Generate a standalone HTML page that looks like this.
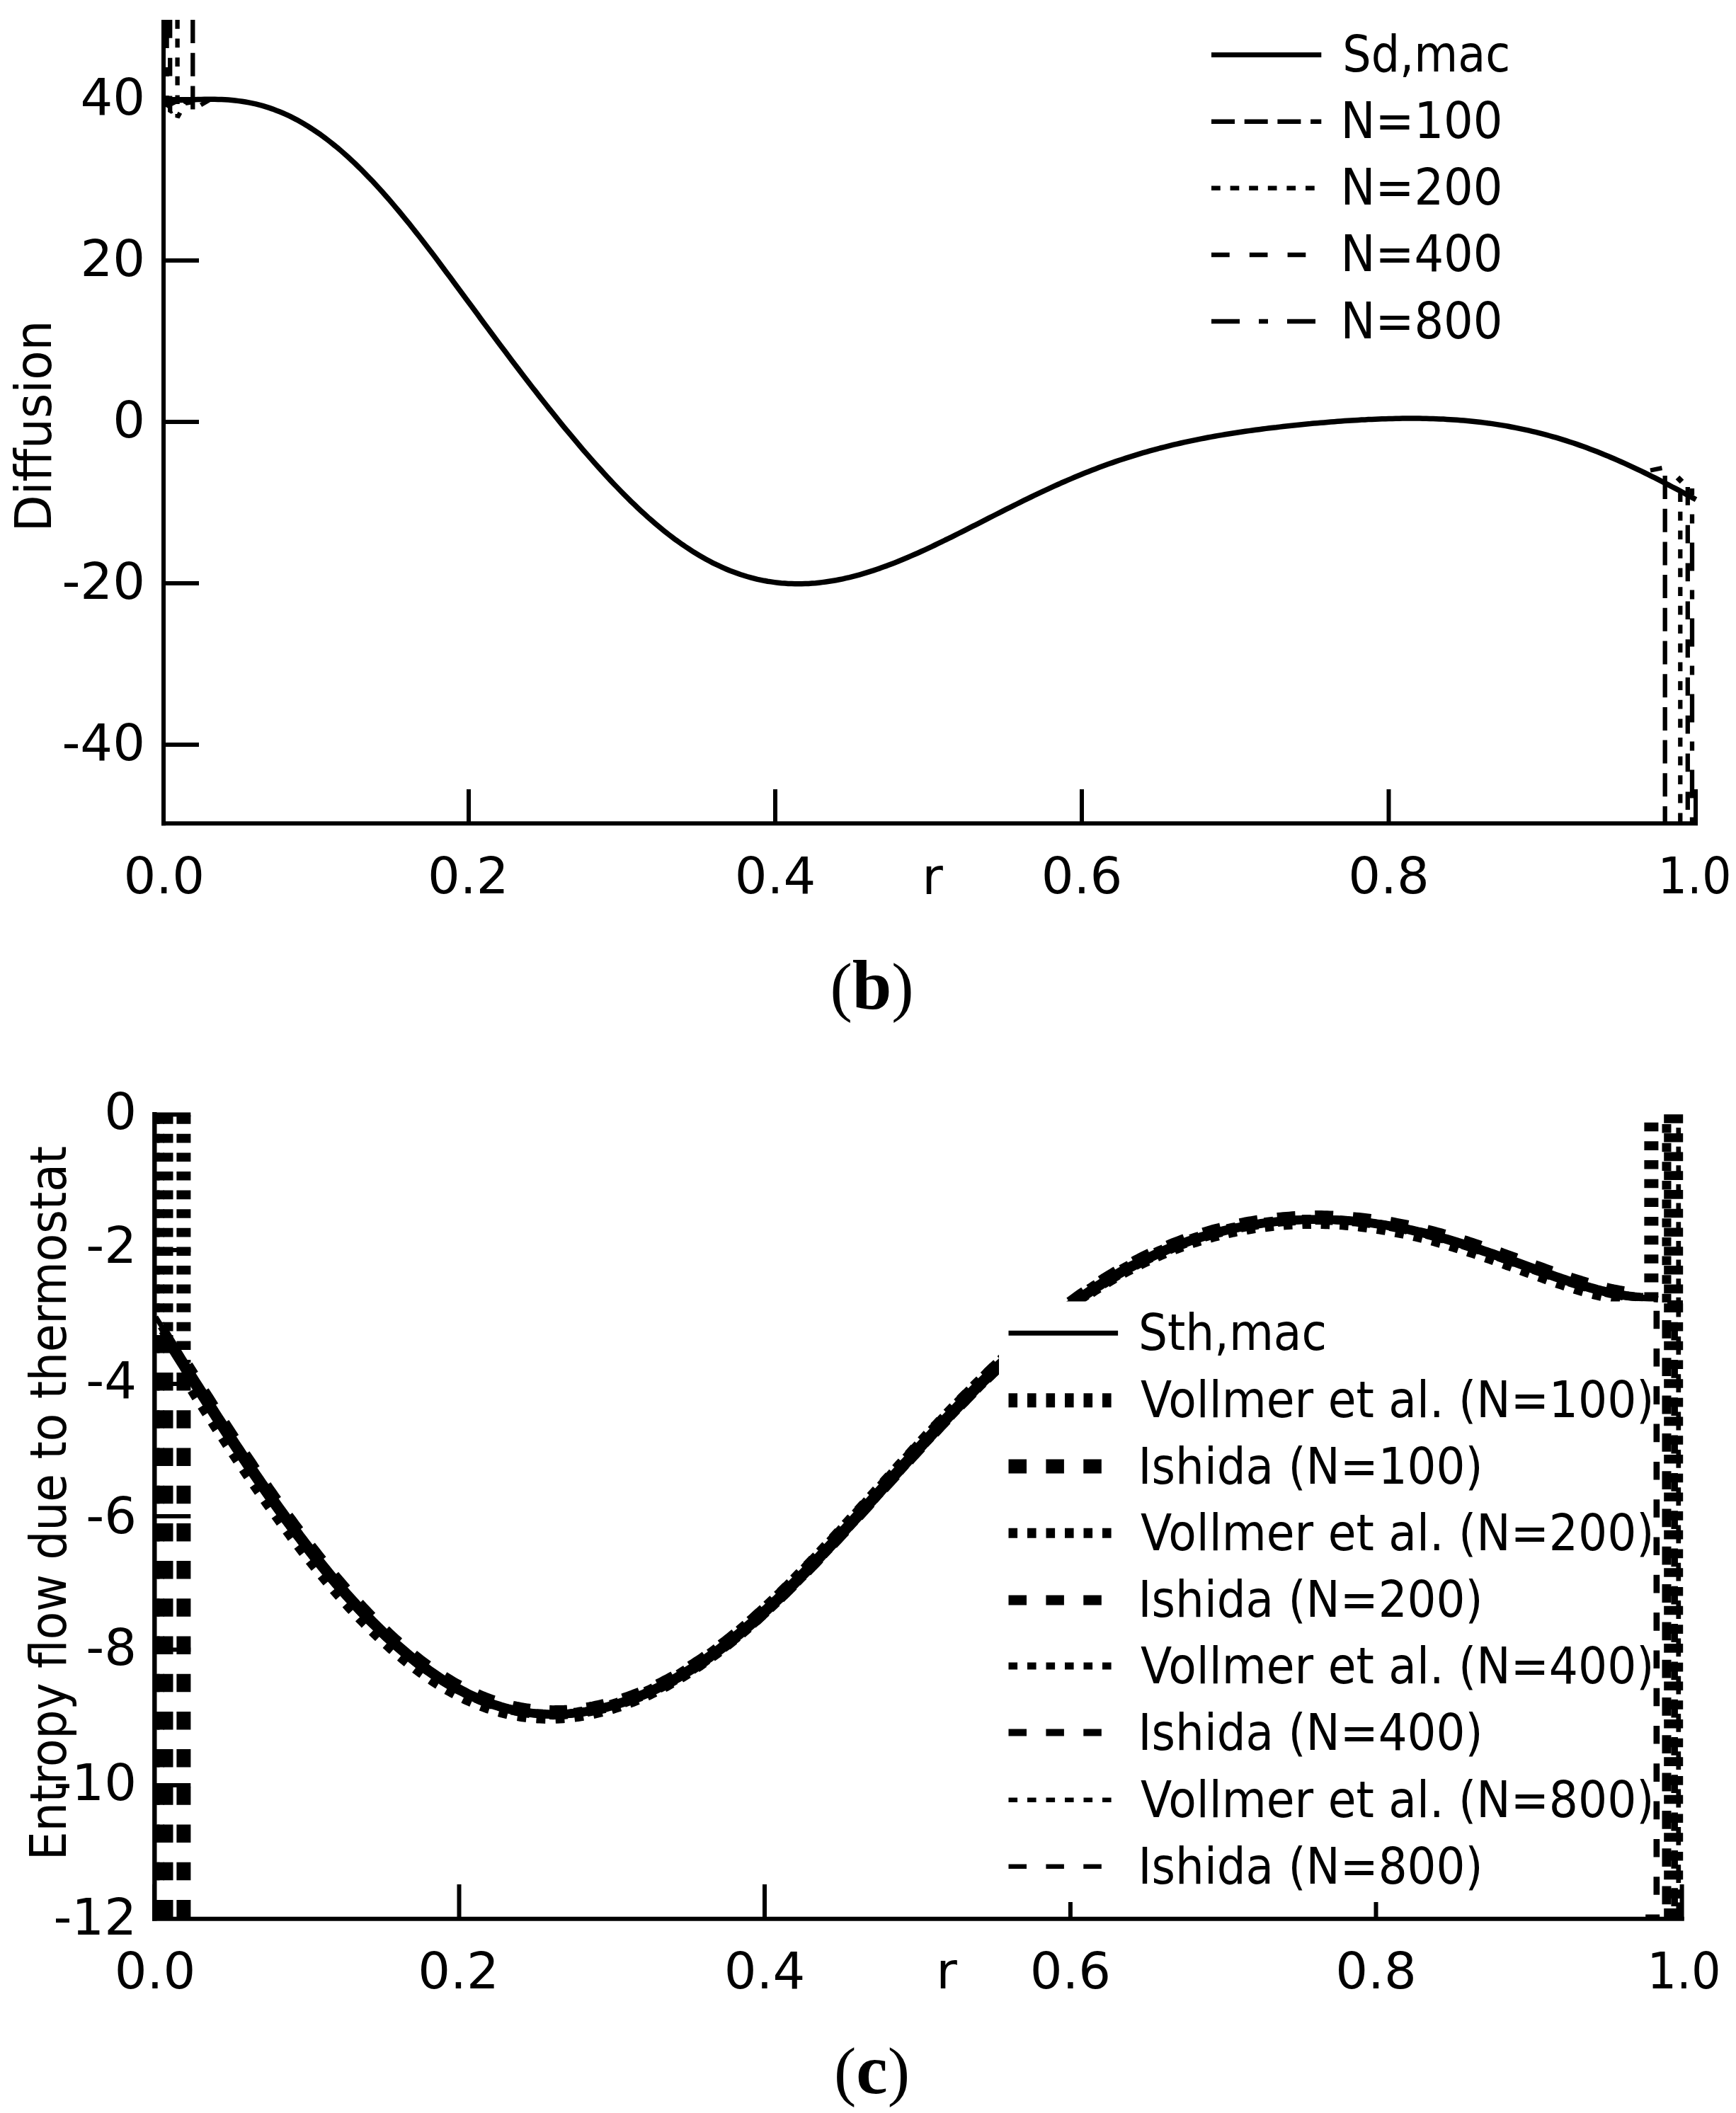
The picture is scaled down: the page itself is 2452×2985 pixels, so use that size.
<!DOCTYPE html>
<html><head><meta charset="utf-8"><title>Figure</title>
<style>html,body{margin:0;padding:0;background:#fff}svg{display:block}text{fill:#000}</style></head>
<body><svg width="2452" height="2985" viewBox="0 0 2452 2985">
<rect width="2452" height="2985" fill="#fff"/>
<line x1="231" y1="28" x2="231" y2="1166.3" stroke="#000" stroke-width="6"/>
<line x1="228" y1="1163.3" x2="2398" y2="1163.3" stroke="#000" stroke-width="6"/>
<line x1="231" y1="140" x2="281" y2="140" stroke="#000" stroke-width="6"/>
<line x1="231" y1="368" x2="281" y2="368" stroke="#000" stroke-width="6"/>
<line x1="231" y1="596" x2="281" y2="596" stroke="#000" stroke-width="6"/>
<line x1="231" y1="824" x2="281" y2="824" stroke="#000" stroke-width="6"/>
<line x1="231" y1="1052" x2="281" y2="1052" stroke="#000" stroke-width="6"/>
<line x1="231" y1="1115" x2="231" y2="1164" stroke="#000" stroke-width="6"/>
<line x1="662" y1="1115" x2="662" y2="1164" stroke="#000" stroke-width="6"/>
<line x1="1095" y1="1115" x2="1095" y2="1164" stroke="#000" stroke-width="6"/>
<line x1="1528" y1="1115" x2="1528" y2="1164" stroke="#000" stroke-width="6"/>
<line x1="1961.5" y1="1115" x2="1961.5" y2="1164" stroke="#000" stroke-width="6"/>
<line x1="2395" y1="1115" x2="2395" y2="1164" stroke="#000" stroke-width="6"/>
<polyline points="231.0,141.6 235.8,141.7 240.6,141.7 245.5,141.6 250.3,141.5 255.1,141.4 259.9,141.2 264.7,141.0 269.6,140.9 274.4,140.7 279.2,140.5 284.0,140.4 288.8,140.3 293.7,140.2 298.5,140.2 303.3,140.3 308.1,140.4 313.0,140.5 317.8,140.8 322.6,141.1 327.4,141.5 332.2,142.0 337.1,142.6 341.9,143.2 346.7,144.0 351.5,144.9 356.3,145.9 361.2,146.9 366.0,148.1 370.8,149.4 375.6,150.9 380.4,152.4 385.3,154.1 390.1,155.9 394.9,157.8 399.7,159.8 404.5,161.9 409.4,164.2 414.2,166.6 419.0,169.1 423.8,171.8 428.6,174.5 433.5,177.4 438.3,180.5 443.1,183.6 447.9,186.9 452.8,190.2 457.6,193.7 462.4,197.4 467.2,201.1 472.0,205.0 476.9,208.9 481.7,213.0 486.5,217.2 491.3,221.6 496.1,226.0 501.0,230.5 505.8,235.2 510.6,239.9 515.4,244.8 520.2,249.8 525.1,254.8 529.9,260.0 534.7,265.2 539.5,270.5 544.3,276.0 549.2,281.5 554.0,287.1 558.8,292.8 563.6,298.5 568.4,304.4 573.3,310.3 578.1,316.2 582.9,322.3 587.7,328.4 592.6,334.5 597.4,340.7 602.2,347.0 607.0,353.3 611.8,359.6 616.7,366.0 621.5,372.4 626.3,378.9 631.1,385.4 635.9,391.8 640.8,398.4 645.6,404.9 650.4,411.4 655.2,418.0 660.0,424.5 664.9,431.1 669.7,437.6 674.5,444.1 679.3,450.7 684.1,457.2 689.0,463.7 693.8,470.2 698.6,476.7 703.4,483.2 708.3,489.7 713.1,496.1 717.9,502.5 722.7,508.9 727.5,515.3 732.4,521.6 737.2,527.9 742.0,534.2 746.8,540.5 751.6,546.7 756.5,552.9 761.3,559.1 766.1,565.2 770.9,571.3 775.7,577.4 780.6,583.4 785.4,589.4 790.2,595.3 795.0,601.3 799.8,607.1 804.7,612.9 809.5,618.7 814.3,624.4 819.1,630.1 823.9,635.8 828.8,641.4 833.6,646.9 838.4,652.4 843.2,657.8 848.1,663.1 852.9,668.5 857.7,673.7 862.5,678.9 867.3,684.0 872.2,689.0 877.0,694.0 881.8,698.9 886.6,703.7 891.4,708.5 896.3,713.1 901.1,717.7 905.9,722.2 910.7,726.6 915.5,731.0 920.4,735.2 925.2,739.4 930.0,743.4 934.8,747.4 939.6,751.3 944.5,755.1 949.3,758.8 954.1,762.4 958.9,765.8 963.7,769.2 968.6,772.5 973.4,775.7 978.2,778.8 983.0,781.8 987.9,784.7 992.7,787.5 997.5,790.2 1002.3,792.8 1007.1,795.3 1012.0,797.7 1016.8,799.9 1021.6,802.1 1026.4,804.2 1031.2,806.2 1036.1,808.0 1040.9,809.8 1045.7,811.5 1050.5,813.0 1055.3,814.5 1060.2,815.8 1065.0,817.1 1069.8,818.3 1074.6,819.3 1079.4,820.3 1084.3,821.2 1089.1,821.9 1093.9,822.6 1098.7,823.2 1103.5,823.7 1108.4,824.1 1113.2,824.4 1118.0,824.6 1122.8,824.7 1127.7,824.8 1132.5,824.7 1137.3,824.6 1142.1,824.4 1146.9,824.1 1151.8,823.7 1156.6,823.2 1161.4,822.6 1166.2,822.0 1171.0,821.3 1175.9,820.5 1180.7,819.7 1185.5,818.8 1190.3,817.8 1195.1,816.7 1200.0,815.6 1204.8,814.4 1209.6,813.1 1214.4,811.8 1219.2,810.4 1224.1,808.9 1228.9,807.4 1233.7,805.9 1238.5,804.2 1243.3,802.6 1248.2,800.8 1253.0,799.1 1257.8,797.2 1262.6,795.4 1267.5,793.5 1272.3,791.5 1277.1,789.5 1281.9,787.5 1286.7,785.4 1291.6,783.3 1296.4,781.2 1301.2,779.0 1306.0,776.8 1310.8,774.6 1315.7,772.3 1320.5,770.0 1325.3,767.7 1330.1,765.4 1334.9,763.0 1339.8,760.7 1344.6,758.3 1349.4,755.9 1354.2,753.5 1359.0,751.1 1363.9,748.6 1368.7,746.2 1373.5,743.7 1378.3,741.3 1383.2,738.8 1388.0,736.4 1392.8,733.9 1397.6,731.4 1402.4,729.0 1407.3,726.5 1412.1,724.1 1416.9,721.6 1421.7,719.2 1426.5,716.8 1431.4,714.4 1436.2,712.0 1441.0,709.6 1445.8,707.2 1450.6,704.8 1455.5,702.5 1460.3,700.2 1465.1,697.9 1469.9,695.6 1474.7,693.3 1479.6,691.1 1484.4,688.9 1489.2,686.7 1494.0,684.5 1498.8,682.3 1503.7,680.2 1508.5,678.1 1513.3,676.1 1518.1,674.0 1523.0,672.0 1527.8,670.0 1532.6,668.1 1537.4,666.2 1542.2,664.3 1547.1,662.4 1551.9,660.6 1556.7,658.8 1561.5,657.0 1566.3,655.3 1571.2,653.6 1576.0,651.9 1580.8,650.3 1585.6,648.7 1590.4,647.1 1595.3,645.6 1600.1,644.1 1604.9,642.6 1609.7,641.1 1614.5,639.7 1619.4,638.3 1624.2,636.9 1629.0,635.6 1633.8,634.3 1638.6,633.0 1643.5,631.8 1648.3,630.6 1653.1,629.4 1657.9,628.2 1662.8,627.1 1667.6,626.0 1672.4,624.9 1677.2,623.9 1682.0,622.8 1686.9,621.8 1691.7,620.8 1696.5,619.9 1701.3,619.0 1706.1,618.0 1711.0,617.1 1715.8,616.3 1720.6,615.4 1725.4,614.6 1730.2,613.8 1735.1,613.0 1739.9,612.2 1744.7,611.5 1749.5,610.7 1754.3,610.0 1759.2,609.3 1764.0,608.6 1768.8,608.0 1773.6,607.3 1778.4,606.7 1783.3,606.0 1788.1,605.4 1792.9,604.8 1797.7,604.2 1802.6,603.7 1807.4,603.1 1812.2,602.5 1817.0,602.0 1821.8,601.5 1826.7,601.0 1831.5,600.5 1836.3,600.0 1841.1,599.5 1845.9,599.0 1850.8,598.6 1855.6,598.1 1860.4,597.7 1865.2,597.3 1870.0,596.9 1874.9,596.4 1879.7,596.1 1884.5,595.7 1889.3,595.3 1894.1,595.0 1899.0,594.6 1903.8,594.3 1908.6,594.0 1913.4,593.7 1918.2,593.4 1923.1,593.1 1927.9,592.9 1932.7,592.6 1937.5,592.4 1942.4,592.2 1947.2,592.0 1952.0,591.8 1956.8,591.7 1961.6,591.5 1966.5,591.4 1971.3,591.3 1976.1,591.2 1980.9,591.1 1985.7,591.1 1990.6,591.1 1995.4,591.1 2000.2,591.1 2005.0,591.1 2009.8,591.2 2014.7,591.3 2019.5,591.4 2024.3,591.6 2029.1,591.7 2033.9,591.9 2038.8,592.1 2043.6,592.4 2048.4,592.7 2053.2,593.0 2058.1,593.3 2062.9,593.7 2067.7,594.1 2072.5,594.5 2077.3,595.0 2082.2,595.5 2087.0,596.0 2091.8,596.5 2096.6,597.1 2101.4,597.8 2106.3,598.4 2111.1,599.1 2115.9,599.9 2120.7,600.6 2125.5,601.4 2130.4,602.3 2135.2,603.2 2140.0,604.1 2144.8,605.1 2149.6,606.1 2154.5,607.1 2159.3,608.2 2164.1,609.3 2168.9,610.4 2173.7,611.6 2178.6,612.9 2183.4,614.1 2188.2,615.5 2193.0,616.8 2197.9,618.2 2202.7,619.6 2207.5,621.1 2212.3,622.6 2217.1,624.2 2222.0,625.8 2226.8,627.4 2231.6,629.1 2236.4,630.8 2241.2,632.6 2246.1,634.4 2250.9,636.2 2255.7,638.1 2260.5,640.0 2265.3,642.0 2270.2,643.9 2275.0,646.0 2279.8,648.0 2284.6,650.1 2289.4,652.2 2294.3,654.4 2299.1,656.6 2303.9,658.8 2308.7,661.1 2313.5,663.4 2318.4,665.7 2323.2,668.0 2328.0,670.4 2332.8,672.8 2337.7,675.2 2342.5,677.7 2347.3,680.1 2352.1,682.6 2356.9,685.1 2361.8,687.7 2366.6,690.2 2371.4,692.7 2376.2,695.3 2381.0,697.9 2385.9,700.5 2390.7,703.1 2395.5,705.7" fill="none" stroke="#000" stroke-width="7.5" stroke-linejoin="round" stroke-linecap="butt"/>
<polyline points="272.3,28.0 272.3,155.0 296.0,141.0" fill="none" stroke="#000" stroke-width="6.3" stroke-linejoin="bevel" stroke-linecap="butt" stroke-dasharray="33 13.7" stroke-dashoffset="0"/>
<polyline points="250.6,28.0 250.6,166.0 262.0,146.0 290.0,141.0" fill="none" stroke="#000" stroke-width="6.3" stroke-linejoin="bevel" stroke-linecap="butt" stroke-dasharray="12.7 13.9" stroke-dashoffset="0"/>
<polyline points="240.2,28.0 240.2,158.0 262.0,147.0" fill="none" stroke="#000" stroke-width="6.3" stroke-linejoin="bevel" stroke-linecap="butt" stroke-dasharray="25.7 28.1" stroke-dashoffset="0"/>
<polyline points="235.6,28.0 235.6,150.0 250.0,143.0" fill="none" stroke="#000" stroke-width="6.3" stroke-linejoin="bevel" stroke-linecap="butt" stroke-dasharray="40 27 13 27" stroke-dashoffset="0"/>
<polyline points="2331.0,664.5 2347.5,661.2" fill="none" stroke="#000" stroke-width="6.3" stroke-linejoin="round" stroke-linecap="butt"/>
<line x1="2351.7" y1="672" x2="2351.7" y2="1162" stroke="#000" stroke-width="6.3" stroke-dasharray="33 13.7" stroke-dashoffset="0"/>
<polyline points="2369.5,674.5 2375.5,680.5" fill="none" stroke="#000" stroke-width="8" stroke-linejoin="round" stroke-linecap="butt"/>
<line x1="2373.3" y1="692.7" x2="2373.3" y2="1162" stroke="#000" stroke-width="6.3" stroke-dasharray="12.7 13.9" stroke-dashoffset="-3.5"/>
<polyline points="2383.8,688.0 2383.8,1162.0" fill="none" stroke="#000" stroke-width="6.3" stroke-linejoin="bevel" stroke-linecap="butt" stroke-dasharray="25.7 28.1" stroke-dashoffset="0"/>
<polyline points="2390.0,690.0 2390.0,1162.0" fill="none" stroke="#000" stroke-width="6.3" stroke-linejoin="bevel" stroke-linecap="butt" stroke-dasharray="40 27 13 27" stroke-dashoffset="30.4"/>
<text x="205" y="162" font-family='"DejaVu Sans", "Liberation Sans", sans-serif' font-size="72" text-anchor="end">40</text>
<text x="205" y="390" font-family='"DejaVu Sans", "Liberation Sans", sans-serif' font-size="72" text-anchor="end">20</text>
<text x="205" y="618" font-family='"DejaVu Sans", "Liberation Sans", sans-serif' font-size="72" text-anchor="end">0</text>
<text x="205" y="846" font-family='"DejaVu Sans", "Liberation Sans", sans-serif' font-size="72" text-anchor="end">-20</text>
<text x="205" y="1074" font-family='"DejaVu Sans", "Liberation Sans", sans-serif' font-size="72" text-anchor="end">-40</text>
<text x="231.7" y="1262" font-family='"DejaVu Sans", "Liberation Sans", sans-serif' font-size="72" text-anchor="middle">0.0</text>
<text x="661.2" y="1262" font-family='"DejaVu Sans", "Liberation Sans", sans-serif' font-size="72" text-anchor="middle">0.2</text>
<text x="1095" y="1262" font-family='"DejaVu Sans", "Liberation Sans", sans-serif' font-size="72" text-anchor="middle">0.4</text>
<text x="1528" y="1262" font-family='"DejaVu Sans", "Liberation Sans", sans-serif' font-size="72" text-anchor="middle">0.6</text>
<text x="1961.5" y="1262" font-family='"DejaVu Sans", "Liberation Sans", sans-serif' font-size="72" text-anchor="middle">0.8</text>
<text x="2445.5" y="1262" font-family='"DejaVu Sans", "Liberation Sans", sans-serif' font-size="72" text-anchor="end" textLength="104" lengthAdjust="spacingAndGlyphs">1.0</text>
<text x="1317" y="1262.7" font-family='"DejaVu Sans", "Liberation Sans", sans-serif' font-size="72" text-anchor="middle">r</text>
<text transform="translate(72.4,602) rotate(-90)" font-family='"DejaVu Sans", "Liberation Sans", sans-serif' font-size="72" text-anchor="middle" textLength="299" lengthAdjust="spacingAndGlyphs">Diffusion</text>
<line x1="1711" y1="77.5" x2="1866.3" y2="77.5" stroke="#000" stroke-width="7"/>
<line x1="1711" y1="171.7" x2="1866.3" y2="171.7" stroke="#000" stroke-width="6.5" stroke-dasharray="33 13.7" stroke-dashoffset="0"/>
<line x1="1711" y1="265.7" x2="1858.3" y2="265.7" stroke="#000" stroke-width="6.5" stroke-dasharray="12.7 13.9" stroke-dashoffset="0"/>
<line x1="1711" y1="359.9" x2="1846.3" y2="359.9" stroke="#000" stroke-width="6.5" stroke-dasharray="25.7 28.1" stroke-dashoffset="0"/>
<line x1="1711" y1="454" x2="1858.3" y2="454" stroke="#000" stroke-width="6.5" stroke-dasharray="40 27 13 27" stroke-dashoffset="0"/>
<text x="1896.3" y="101.0" font-family='"DejaVu Sans", "Liberation Sans", sans-serif' font-size="72" text-anchor="start" textLength="237" lengthAdjust="spacingAndGlyphs">Sd,mac</text>
<text x="1893.5" y="195.2" font-family='"DejaVu Sans", "Liberation Sans", sans-serif' font-size="72" text-anchor="start" textLength="229" lengthAdjust="spacingAndGlyphs">N=100</text>
<text x="1893.5" y="289.2" font-family='"DejaVu Sans", "Liberation Sans", sans-serif' font-size="72" text-anchor="start" textLength="229" lengthAdjust="spacingAndGlyphs">N=200</text>
<text x="1893.5" y="383.4" font-family='"DejaVu Sans", "Liberation Sans", sans-serif' font-size="72" text-anchor="start" textLength="229" lengthAdjust="spacingAndGlyphs">N=400</text>
<text x="1893.5" y="477.5" font-family='"DejaVu Sans", "Liberation Sans", sans-serif' font-size="72" text-anchor="start" textLength="229" lengthAdjust="spacingAndGlyphs">N=800</text>
<text x="1231.5" y="1424.5" font-family='"Liberation Serif", "DejaVu Serif", serif' font-size="94" text-anchor="middle">(<tspan font-weight="bold" font-size="100">b</tspan>)</text>
<line x1="218.3" y1="1571" x2="218.3" y2="2713.6" stroke="#000" stroke-width="6.4"/>
<line x1="215" y1="2710.7" x2="2378.8" y2="2710.7" stroke="#000" stroke-width="6"/>
<line x1="218" y1="1574.5" x2="269.3" y2="1574.5" stroke="#000" stroke-width="6"/>
<line x1="218" y1="1766" x2="269.3" y2="1766" stroke="#000" stroke-width="6"/>
<line x1="218" y1="1955" x2="269.3" y2="1955" stroke="#000" stroke-width="6"/>
<line x1="218" y1="2142" x2="269.3" y2="2142" stroke="#000" stroke-width="6"/>
<line x1="218" y1="2330.5" x2="269.3" y2="2330.5" stroke="#000" stroke-width="6"/>
<line x1="218" y1="2522" x2="269.3" y2="2522" stroke="#000" stroke-width="6"/>
<line x1="218" y1="2662" x2="218" y2="2712" stroke="#000" stroke-width="6"/>
<line x1="648.5" y1="2662" x2="648.5" y2="2712" stroke="#000" stroke-width="6"/>
<line x1="1080" y1="2662" x2="1080" y2="2712" stroke="#000" stroke-width="6"/>
<line x1="1511.9" y1="2662" x2="1511.9" y2="2712" stroke="#000" stroke-width="6"/>
<line x1="1943.5" y1="2662" x2="1943.5" y2="2712" stroke="#000" stroke-width="6"/>
<line x1="2375.6" y1="2662" x2="2375.6" y2="2712" stroke="#000" stroke-width="6"/>
<line x1="259.4" y1="1571" x2="259.4" y2="1925" stroke="#000" stroke-width="20" stroke-dasharray="12.6 14" stroke-dashoffset="22.399999999999956"/>
<line x1="237.5" y1="1571" x2="237.5" y2="1885" stroke="#000" stroke-width="14" stroke-dasharray="12.6 14" stroke-dashoffset="22.399999999999956"/>
<line x1="227" y1="1571" x2="227" y2="1870" stroke="#000" stroke-width="10" stroke-dasharray="12.6 14" stroke-dashoffset="22.399999999999956"/>
<line x1="222.5" y1="1571" x2="222.5" y2="1862" stroke="#000" stroke-width="6" stroke-dasharray="12.6 14" stroke-dashoffset="22.399999999999956"/>
<line x1="259.4" y1="1925" x2="259.4" y2="2708" stroke="#000" stroke-width="20" stroke-dasharray="25.5 27.7" stroke-dashoffset="39.100000000000094"/>
<line x1="237.5" y1="1885" x2="237.5" y2="2708" stroke="#000" stroke-width="14" stroke-dasharray="25.5 27.7" stroke-dashoffset="52.3000000000001"/>
<line x1="227" y1="1870" x2="227" y2="2708" stroke="#000" stroke-width="10" stroke-dasharray="25.5 27.7" stroke-dashoffset="37.3000000000001"/>
<line x1="222.5" y1="1862" x2="222.5" y2="2708" stroke="#000" stroke-width="6" stroke-dasharray="25.5 27.7" stroke-dashoffset="29.300000000000097"/>
<polyline points="260.9,1942.3 265.0,1948.8 269.1,1955.3 273.2,1961.7 277.3,1968.2 281.3,1974.6 285.4,1981.0 289.5,1987.4 293.6,1993.8 297.7,2000.1 301.7,2006.4 305.8,2012.8 309.9,2019.0 314.0,2025.3 318.1,2031.5 322.1,2037.7 326.2,2043.9 330.3,2050.1 334.4,2056.2 338.4,2062.3 342.5,2068.4 346.6,2074.5 350.7,2080.5 354.8,2086.5 358.8,2092.4 362.9,2098.3 367.0,2104.2 371.1,2110.1 375.2,2115.9 379.2,2121.7 383.3,2127.4 387.4,2133.2 391.5,2138.8 395.6,2144.5 399.6,2150.1 403.7,2155.6 407.8,2161.1 411.9,2166.6 415.9,2172.1 420.0,2177.4 424.1,2182.8 428.2,2188.1 432.3,2193.4 436.3,2198.6 440.4,2203.7 444.5,2208.9 448.6,2213.9 452.7,2219.0 456.7,2223.9 460.8,2228.9 464.9,2233.8 469.0,2238.6 473.1,2243.4 477.1,2248.1 481.2,2252.8 485.3,2257.4 489.4,2261.9 493.5,2266.5 497.5,2270.9 501.6,2275.3 505.7,2279.7 509.8,2284.0 513.8,2288.2 517.9,2292.4 522.0,2296.5 526.1,2300.5 530.2,2304.5 534.2,2308.5 538.3,2312.4 542.4,2316.2 546.5,2319.9 550.6,2323.6 554.6,2327.3 558.7,2330.8 562.8,2334.3 566.9,2337.8 571.0,2341.2 575.0,2344.5 579.1,2347.7 583.2,2350.9 587.3,2354.1 591.3,2357.1 595.4,2360.1 599.5,2363.0 603.6,2365.9 607.7,2368.7 611.7,2371.4 615.8,2374.1 619.9,2376.7 624.0,2379.2 628.1,2381.7 632.1,2384.1 636.2,2386.4 640.3,2388.6 644.4,2390.8 648.5,2392.9 652.5,2395.0 656.6,2397.0 660.7,2398.9 664.8,2400.7 668.8,2402.5 672.9,2404.2 677.0,2405.9 681.1,2407.4 685.2,2408.9 689.2,2410.4 693.3,2411.7 697.4,2413.0 701.5,2414.3 705.6,2415.4 709.6,2416.5 713.7,2417.5 717.8,2418.5 721.9,2419.4 726.0,2420.2 730.0,2421.0 734.1,2421.6 738.2,2422.3 742.3,2422.8 746.3,2423.3 750.4,2423.7 754.5,2424.1 758.6,2424.4 762.7,2424.6 766.7,2424.8 770.8,2424.9 774.9,2425.0 779.0,2424.9 783.1,2424.9 787.1,2424.7 791.2,2424.5 795.3,2424.2 799.4,2423.9 803.5,2423.5 807.5,2423.1 811.6,2422.6 815.7,2422.1 819.8,2421.4 823.8,2420.8 827.9,2420.0 832.0,2419.3 836.1,2418.4 840.2,2417.5 844.2,2416.6 848.3,2415.6 852.4,2414.5 856.5,2413.4 860.6,2412.3 864.6,2411.1 868.7,2409.8 872.8,2408.5 876.9,2407.1 881.0,2405.7 885.0,2404.2 889.1,2402.7 893.2,2401.1 897.3,2399.5 901.4,2397.8 905.4,2396.1 909.5,2394.3 913.6,2392.5 917.7,2390.6 921.7,2388.6 925.8,2386.7 929.9,2384.6 934.0,2382.5 938.1,2380.4 942.1,2378.2 946.2,2375.9 950.3,2373.6 954.4,2371.3 958.5,2368.9 962.5,2366.4 966.6,2363.9 970.7,2361.3 974.8,2358.7 978.9,2356.0 982.9,2353.3 987.0,2350.6 991.1,2347.7 995.2,2344.9 999.2,2342.0 1003.3,2339.0 1007.4,2336.0 1011.5,2332.9 1015.6,2329.8 1019.6,2326.7 1023.7,2323.5 1027.8,2320.2 1031.9,2316.9 1036.0,2313.6 1040.0,2310.2 1044.1,2306.8 1048.2,2303.3 1052.3,2299.8 1056.4,2296.3 1060.4,2292.7 1064.5,2289.0 1068.6,2285.4 1072.7,2281.7 1076.7,2277.9 1080.8,2274.1 1084.9,2270.3 1089.0,2266.4 1093.1,2262.6 1097.1,2258.6 1101.2,2254.7 1105.3,2250.7 1109.4,2246.7 1113.5,2242.6 1117.5,2238.5 1121.6,2234.4 1125.7,2230.3 1129.8,2226.1 1133.9,2222.0 1137.9,2217.7 1142.0,2213.5 1146.1,2209.3 1150.2,2205.0 1154.2,2200.7 1158.3,2196.4 1162.4,2192.0 1166.5,2187.7 1170.6,2183.3 1174.6,2178.9 1178.7,2174.5 1182.8,2170.1 1186.9,2165.6 1191.0,2161.2 1195.0,2156.7 1199.1,2152.3 1203.2,2147.8 1207.3,2143.3 1211.4,2138.8 1215.4,2134.3 1219.5,2129.8 1223.6,2125.3 1227.7,2120.8 1231.7,2116.3 1235.8,2111.8 1239.9,2107.2 1244.0,2102.7 1248.1,2098.2 1252.1,2093.7 1256.2,2089.2 1260.3,2084.7 1264.4,2080.2 1268.5,2075.6 1272.5,2071.1 1276.6,2066.7 1280.7,2062.2 1284.8,2057.7 1288.9,2053.2 1292.9,2048.8 1297.0,2044.3 1301.1,2039.9 1305.2,2035.5 1309.3,2031.1 1313.3,2026.7 1317.4,2022.3 1321.5,2017.9 1325.6,2013.6 1329.6,2009.3 1333.7,2004.9 1337.8,2000.7 1341.9,1996.4 1346.0,1992.1 1350.0,1987.9 1354.1,1983.7 1358.2,1979.5 1362.3,1975.3 1366.4,1971.2 1370.4,1967.0 1374.5,1963.0 1378.6,1958.9 1382.7,1954.8 1386.8,1950.8 1390.8,1946.8 1394.9,1942.9 1399.0,1938.9 1403.1,1935.0 1407.1,1931.1 1411.2,1927.3 1415.3,1923.5 1419.4,1919.7 1423.5,1915.9 1427.5,1912.2 1431.6,1908.5 1435.7,1904.9 1439.8,1901.2 1443.9,1897.6 1447.9,1894.1 1452.0,1890.6 1456.1,1887.1 1460.2,1883.6 1464.3,1880.2 1468.3,1876.8 1472.4,1873.5 1476.5,1870.2 1480.6,1866.9 1484.6,1863.7 1488.7,1860.5 1492.8,1857.3 1496.9,1854.2 1501.0,1851.1 1505.0,1848.1 1509.1,1845.1 1513.2,1842.1 1517.3,1839.2 1521.4,1836.3 1525.4,1833.5 1529.5,1830.6 1533.6,1827.9 1537.7,1825.1 1541.8,1822.5 1545.8,1819.8 1549.9,1817.2 1554.0,1814.6 1558.1,1812.1 1562.1,1809.6 1566.2,1807.2 1570.3,1804.7 1574.4,1802.4 1578.5,1800.0 1582.5,1797.7 1586.6,1795.5 1590.7,1793.3 1594.8,1791.1 1598.9,1789.0 1602.9,1786.9 1607.0,1784.8 1611.1,1782.8 1615.2,1780.8 1619.3,1778.9 1623.3,1777.0 1627.4,1775.1 1631.5,1773.3 1635.6,1771.5 1639.6,1769.7 1643.7,1768.0 1647.8,1766.3 1651.9,1764.7 1656.0,1763.1 1660.0,1761.5 1664.1,1760.0 1668.2,1758.5 1672.3,1757.1 1676.4,1755.6 1680.4,1754.3 1684.5,1752.9 1688.6,1751.6 1692.7,1750.3 1696.8,1749.1 1700.8,1747.9 1704.9,1746.7 1709.0,1745.5 1713.1,1744.4 1717.2,1743.4 1721.2,1742.3 1725.3,1741.3 1729.4,1740.4 1733.5,1739.4 1737.5,1738.5 1741.6,1737.6 1745.7,1736.8 1749.8,1736.0 1753.9,1735.2 1757.9,1734.5 1762.0,1733.8 1766.1,1733.1 1770.2,1732.4 1774.3,1731.8 1778.3,1731.2 1782.4,1730.7 1786.5,1730.2 1790.6,1729.7 1794.7,1729.2 1798.7,1728.8 1802.8,1728.4 1806.9,1728.0 1811.0,1727.7 1815.0,1727.4 1819.1,1727.1 1823.2,1726.8 1827.3,1726.6 1831.4,1726.4 1835.4,1726.3 1839.5,1726.1 1843.6,1726.0 1847.7,1726.0 1851.8,1725.9 1855.8,1725.9 1859.9,1725.9 1864.0,1726.0 1868.1,1726.1 1872.2,1726.2 1876.2,1726.3 1880.3,1726.5 1884.4,1726.7 1888.5,1726.9 1892.5,1727.1 1896.6,1727.4 1900.7,1727.7 1904.8,1728.1 1908.9,1728.4 1912.9,1728.8 1917.0,1729.2 1921.1,1729.7 1925.2,1730.2 1929.3,1730.7 1933.3,1731.2 1937.4,1731.8 1941.5,1732.4 1945.6,1733.0 1949.7,1733.6 1953.7,1734.3 1957.8,1735.0 1961.9,1735.7 1966.0,1736.5 1970.0,1737.3 1974.1,1738.1 1978.2,1738.9 1982.3,1739.7 1986.4,1740.6 1990.4,1741.5 1994.5,1742.5 1998.6,1743.4 2002.7,1744.4 2006.8,1745.4 2010.8,1746.4 2014.9,1747.5 2019.0,1748.5 2023.1,1749.6 2027.2,1750.7 2031.2,1751.9 2035.3,1753.0 2039.4,1754.2 2043.5,1755.4 2047.5,1756.6 2051.6,1757.9 2055.7,1759.1 2059.8,1760.4 2063.9,1761.7 2067.9,1763.0 2072.0,1764.3 2076.1,1765.7 2080.2,1767.0 2084.3,1768.4 2088.3,1769.8 2092.4,1771.2 2096.5,1772.6 2100.6,1774.0 2104.7,1775.4 2108.7,1776.8 2112.8,1778.3 2116.9,1779.8 2121.0,1781.2 2125.1,1782.7 2129.1,1784.2 2133.2,1785.6 2137.3,1787.1 2141.4,1788.6 2145.4,1790.1 2149.5,1791.6 2153.6,1793.1 2157.7,1794.6 2161.8,1796.1 2165.8,1797.5 2169.9,1799.0 2174.0,1800.5 2178.1,1801.9 2182.2,1803.4 2186.2,1804.8 2190.3,1806.3 2194.4,1807.7 2198.5,1809.1 2202.6,1810.5 2206.6,1811.8 2210.7,1813.2 2214.8,1814.5 2218.9,1815.8 2222.9,1817.1 2227.0,1818.4 2231.1,1819.6 2235.2,1820.8 2239.3,1822.0 2243.3,1823.1 2247.4,1824.3 2251.5,1825.3 2255.6,1826.4 2259.7,1827.4 2263.7,1828.3 2267.8,1829.2 2271.9,1830.1 2276.0,1830.9 2280.1,1831.7 2284.1,1832.4 2288.2,1833.1 2292.3,1833.7 2296.4,1834.2" fill="none" stroke="#000" stroke-width="20" stroke-linejoin="round" stroke-linecap="butt" stroke-dasharray="12.6 14" stroke-dashoffset="3"/>
<polyline points="263.1,1930.0 267.2,1936.5 271.3,1943.0 275.4,1949.5 279.4,1955.9 283.5,1962.4 287.6,1968.8 291.7,1975.2 295.8,1981.6 299.8,1988.0 303.9,1994.3 308.0,2000.6 312.1,2007.0 316.1,2013.2 320.2,2019.5 324.3,2025.7 328.4,2031.9 332.5,2038.1 336.5,2044.3 340.6,2050.4 344.7,2056.5 348.8,2062.6 352.9,2068.7 356.9,2074.7 361.0,2080.7 365.1,2086.6 369.2,2092.5 373.3,2098.4 377.3,2104.3 381.4,2110.1 385.5,2115.9 389.6,2121.6 393.6,2127.4 397.7,2133.0 401.8,2138.7 405.9,2144.3 410.0,2149.8 414.0,2155.3 418.1,2160.8 422.2,2166.3 426.3,2171.6 430.4,2177.0 434.4,2182.3 438.5,2187.6 442.6,2192.8 446.7,2197.9 450.8,2203.1 454.8,2208.1 458.9,2213.2 463.0,2218.1 467.1,2223.1 471.1,2228.0 475.2,2232.8 479.3,2237.6 483.4,2242.3 487.5,2247.0 491.5,2251.6 495.6,2256.1 499.7,2260.7 503.8,2265.1 507.9,2269.5 511.9,2273.9 516.0,2278.2 520.1,2282.4 524.2,2286.6 528.3,2290.7 532.3,2294.7 536.4,2298.7 540.5,2302.7 544.6,2306.6 548.6,2310.4 552.7,2314.1 556.8,2317.8 560.9,2321.5 565.0,2325.0 569.0,2328.5 573.1,2332.0 577.2,2335.4 581.3,2338.7 585.4,2341.9 589.4,2345.1 593.5,2348.3 597.6,2351.3 601.7,2354.3 605.8,2357.2 609.8,2360.1 613.9,2362.9 618.0,2365.6 622.1,2368.3 626.1,2370.9 630.2,2373.4 634.3,2375.9 638.4,2378.3 642.5,2380.6 646.5,2382.8 650.6,2385.0 654.7,2387.1 658.8,2389.2 662.9,2391.2 666.9,2393.1 671.0,2394.9 675.1,2396.7 679.2,2398.4 683.3,2400.1 687.3,2401.6 691.4,2403.1 695.5,2404.6 699.6,2405.9 703.7,2407.2 707.7,2408.5 711.8,2409.6 715.9,2410.7 720.0,2411.7 724.0,2412.7 728.1,2413.6 732.2,2414.4 736.3,2415.2 740.4,2415.8 744.4,2416.5 748.5,2417.0 752.6,2417.5 756.7,2417.9 760.8,2418.3 764.8,2418.6 768.9,2418.8 773.0,2419.0 777.1,2419.1 781.2,2419.2 785.2,2419.1 789.3,2419.1 793.4,2418.9 797.5,2418.7 801.5,2418.4 805.6,2418.1 809.7,2417.7 813.8,2417.3 817.9,2416.8 821.9,2416.3 826.0,2415.6 830.1,2415.0 834.2,2414.2 838.3,2413.5 842.3,2412.6 846.4,2411.7 850.5,2410.8 854.6,2409.8 858.7,2408.7 862.7,2407.6 866.8,2406.5 870.9,2405.3 875.0,2404.0 879.0,2402.7 883.1,2401.3 887.2,2399.9 891.3,2398.4 895.4,2396.9 899.4,2395.3 903.5,2393.7 907.6,2392.0 911.7,2390.3 915.8,2388.5 919.8,2386.7 923.9,2384.8 928.0,2382.8 932.1,2380.9 936.2,2378.8 940.2,2376.7 944.3,2374.6 948.4,2372.4 952.5,2370.1 956.5,2367.8 960.6,2365.5 964.7,2363.1 968.8,2360.6 972.9,2358.1 976.9,2355.5 981.0,2352.9 985.1,2350.2 989.2,2347.5 993.3,2344.8 997.3,2341.9 1001.4,2339.1 1005.5,2336.2 1009.6,2333.2 1013.7,2330.2 1017.7,2327.1 1021.8,2324.0 1025.9,2320.9 1030.0,2317.7 1034.0,2314.4 1038.1,2311.1 1042.2,2307.8 1046.3,2304.4 1050.4,2301.0 1054.4,2297.5 1058.5,2294.0 1062.6,2290.5 1066.7,2286.9 1070.8,2283.2 1074.8,2279.6 1078.9,2275.9 1083.0,2272.1 1087.1,2268.3 1091.2,2264.5 1095.2,2260.6 1099.3,2256.8 1103.4,2252.8 1107.5,2248.9 1111.6,2244.9 1115.6,2240.9 1119.7,2236.8 1123.8,2232.7 1127.9,2228.6 1131.9,2224.5 1136.0,2220.3 1140.1,2216.2 1144.2,2211.9 1148.3,2207.7 1152.3,2203.5 1156.4,2199.2 1160.5,2194.9 1164.6,2190.6 1168.7,2186.2 1172.7,2181.9 1176.8,2177.5 1180.9,2173.1 1185.0,2168.7 1189.1,2164.3 1193.1,2159.8 1197.2,2155.4 1201.3,2150.9 1205.4,2146.5 1209.4,2142.0 1213.5,2137.5 1217.6,2133.0 1221.7,2128.5 1225.8,2124.0 1229.8,2119.5 1233.9,2115.0 1238.0,2110.5 1242.1,2106.0 1246.2,2101.4 1250.2,2096.9 1254.3,2092.4 1258.4,2087.9 1262.5,2083.4 1266.6,2078.9 1270.6,2074.4 1274.7,2069.8 1278.8,2065.3 1282.9,2060.9 1286.9,2056.4 1291.0,2051.9 1295.1,2047.4 1299.2,2043.0 1303.3,2038.5 1307.3,2034.1 1311.4,2029.7 1315.5,2025.3 1319.6,2020.9 1323.7,2016.5 1327.7,2012.1 1331.8,2007.8 1335.9,2003.5 1340.0,1999.1 1344.1,1994.9 1348.1,1990.6 1352.2,1986.3 1356.3,1982.1 1360.4,1977.9 1364.4,1973.7 1368.5,1969.5 1372.6,1965.4 1376.7,1961.2 1380.8,1957.2 1384.8,1953.1 1388.9,1949.0 1393.0,1945.0 1397.1,1941.0 1401.2,1937.1 1405.2,1933.1 1409.3,1929.2 1413.4,1925.3 1417.5,1921.5 1421.6,1917.7 1425.6,1913.9 1429.7,1910.1 1433.8,1906.4 1437.9,1902.7 1441.9,1899.1 1446.0,1895.4 1450.1,1891.8 1454.2,1888.3 1458.3,1884.8 1462.3,1881.3 1466.4,1877.8 1470.5,1874.4 1474.6,1871.0 1478.7,1867.7 1482.7,1864.4 1486.8,1861.1 1490.9,1857.9 1495.0,1854.7 1499.1,1851.5 1503.1,1848.4 1507.2,1845.3 1511.3,1842.3 1515.4,1839.3 1519.5,1836.3 1523.5,1833.4 1527.6,1830.5 1531.7,1827.7 1535.8,1824.8 1539.8,1822.1 1543.9,1819.3 1548.0,1816.7 1552.1,1814.0 1556.2,1811.4 1560.2,1808.8 1564.3,1806.3 1568.4,1803.8 1572.5,1801.4 1576.6,1798.9 1580.6,1796.6 1584.7,1794.2 1588.8,1791.9 1592.9,1789.7 1597.0,1787.5 1601.0,1785.3 1605.1,1783.2 1609.2,1781.1 1613.3,1779.0 1617.3,1777.0 1621.4,1775.0 1625.5,1773.1 1629.6,1771.2 1633.7,1769.3 1637.7,1767.5 1641.8,1765.7 1645.9,1763.9 1650.0,1762.2 1654.1,1760.5 1658.1,1758.9 1662.2,1757.3 1666.3,1755.7 1670.4,1754.2 1674.5,1752.7 1678.5,1751.3 1682.6,1749.8 1686.7,1748.5 1690.8,1747.1 1694.8,1745.8 1698.9,1744.5 1703.0,1743.3 1707.1,1742.1 1711.2,1740.9 1715.2,1739.7 1719.3,1738.6 1723.4,1737.6 1727.5,1736.5 1731.6,1735.5 1735.6,1734.6 1739.7,1733.6 1743.8,1732.7 1747.9,1731.8 1752.0,1731.0 1756.0,1730.2 1760.1,1729.4 1764.2,1728.7 1768.3,1728.0 1772.3,1727.3 1776.4,1726.6 1780.5,1726.0 1784.6,1725.4 1788.7,1724.9 1792.7,1724.4 1796.8,1723.9 1800.9,1723.4 1805.0,1723.0 1809.1,1722.6 1813.1,1722.2 1817.2,1721.9 1821.3,1721.6 1825.4,1721.3 1829.5,1721.0 1833.5,1720.8 1837.6,1720.6 1841.7,1720.5 1845.8,1720.3 1849.8,1720.2 1853.9,1720.2 1858.0,1720.1 1862.1,1720.1 1866.2,1720.1 1870.2,1720.2 1874.3,1720.3 1878.4,1720.4 1882.5,1720.5 1886.6,1720.7 1890.6,1720.9 1894.7,1721.1 1898.8,1721.3 1902.9,1721.6 1907.0,1721.9 1911.0,1722.3 1915.1,1722.6 1919.2,1723.0 1923.3,1723.4 1927.4,1723.9 1931.4,1724.4 1935.5,1724.9 1939.6,1725.4 1943.7,1726.0 1947.7,1726.6 1951.8,1727.2 1955.9,1727.8 1960.0,1728.5 1964.1,1729.2 1968.1,1729.9 1972.2,1730.7 1976.3,1731.5 1980.4,1732.3 1984.5,1733.1 1988.5,1733.9 1992.6,1734.8 1996.7,1735.7 2000.8,1736.7 2004.9,1737.6 2008.9,1738.6 2013.0,1739.6 2017.1,1740.6 2021.2,1741.7 2025.2,1742.7 2029.3,1743.8 2033.4,1744.9 2037.5,1746.1 2041.6,1747.2 2045.6,1748.4 2049.7,1749.6 2053.8,1750.8 2057.9,1752.1 2062.0,1753.3 2066.0,1754.6 2070.1,1755.9 2074.2,1757.2 2078.3,1758.5 2082.4,1759.9 2086.4,1761.2 2090.5,1762.6 2094.6,1764.0 2098.7,1765.4 2102.7,1766.8 2106.8,1768.2 2110.9,1769.6 2115.0,1771.0 2119.1,1772.5 2123.1,1774.0 2127.2,1775.4 2131.3,1776.9 2135.4,1778.4 2139.5,1779.8 2143.5,1781.3 2147.6,1782.8 2151.7,1784.3 2155.8,1785.8 2159.9,1787.3 2163.9,1788.8 2168.0,1790.3 2172.1,1791.7 2176.2,1793.2 2180.2,1794.7 2184.3,1796.1 2188.4,1797.6 2192.5,1799.0 2196.6,1800.5 2200.6,1801.9 2204.7,1803.3 2208.8,1804.7 2212.9,1806.0 2217.0,1807.4 2221.0,1808.7 2225.1,1810.0 2229.2,1811.3 2233.3,1812.6 2237.4,1813.8 2241.4,1815.0 2245.5,1816.2 2249.6,1817.3 2253.7,1818.5 2257.7,1819.5 2261.8,1820.6 2265.9,1821.6 2270.0,1822.5 2274.1,1823.4 2278.1,1824.3 2282.2,1825.1 2286.3,1825.9 2290.4,1826.6 2294.5,1827.3 2298.5,1827.9 2302.6,1828.4 2306.7,1828.9" fill="none" stroke="#000" stroke-width="20" stroke-linejoin="round" stroke-linecap="butt" stroke-dasharray="25.5 27.7" stroke-dashoffset="10"/>
<polyline points="239.5,1899.9 243.6,1906.5 247.6,1913.0 251.7,1919.6 255.8,1926.1 259.9,1932.6 263.9,1939.1 268.0,1945.6 272.1,1952.1 276.2,1958.5 280.3,1965.0 284.3,1971.4 288.4,1977.8 292.5,1984.2 296.6,1990.6 300.7,1996.9 304.7,2003.2 308.8,2009.6 312.9,2015.8 317.0,2022.1 321.1,2028.3 325.1,2034.5 329.2,2040.7 333.3,2046.9 337.4,2053.0 341.4,2059.1 345.5,2065.2 349.6,2071.3 353.7,2077.3 357.8,2083.3 361.8,2089.2 365.9,2095.1 370.0,2101.0 374.1,2106.9 378.2,2112.7 382.2,2118.5 386.3,2124.2 390.4,2130.0 394.5,2135.6 398.6,2141.3 402.6,2146.9 406.7,2152.4 410.8,2157.9 414.9,2163.4 418.9,2168.9 423.0,2174.2 427.1,2179.6 431.2,2184.9 435.3,2190.2 439.3,2195.4 443.4,2200.5 447.5,2205.7 451.6,2210.7 455.7,2215.8 459.7,2220.7 463.8,2225.7 467.9,2230.6 472.0,2235.4 476.1,2240.2 480.1,2244.9 484.2,2249.6 488.3,2254.2 492.4,2258.7 496.5,2263.3 500.5,2267.7 504.6,2272.1 508.7,2276.5 512.8,2280.8 516.8,2285.0 520.9,2289.2 525.0,2293.3 529.1,2297.3 533.2,2301.3 537.2,2305.3 541.3,2309.2 545.4,2313.0 549.5,2316.7 553.6,2320.4 557.6,2324.1 561.7,2327.6 565.8,2331.1 569.9,2334.6 574.0,2338.0 578.0,2341.3 582.1,2344.5 586.2,2347.7 590.3,2350.9 594.3,2353.9 598.4,2356.9 602.5,2359.8 606.6,2362.7 610.7,2365.5 614.7,2368.2 618.8,2370.9 622.9,2373.5 627.0,2376.0 631.1,2378.5 635.1,2380.9 639.2,2383.2 643.3,2385.4 647.4,2387.6 651.5,2389.7 655.5,2391.8 659.6,2393.8 663.7,2395.7 667.8,2397.5 671.8,2399.3 675.9,2401.0 680.0,2402.7 684.1,2404.2 688.2,2405.7 692.2,2407.2 696.3,2408.5 700.4,2409.8 704.5,2411.1 708.6,2412.2 712.6,2413.3 716.7,2414.3 720.8,2415.3 724.9,2416.2 729.0,2417.0 733.0,2417.8 737.1,2418.4 741.2,2419.1 745.3,2419.6 749.3,2420.1 753.4,2420.5 757.5,2420.9 761.6,2421.2 765.7,2421.4 769.7,2421.6 773.8,2421.7 777.9,2421.8 782.0,2421.7 786.1,2421.7 790.1,2421.5 794.2,2421.3 798.3,2421.0 802.4,2420.7 806.5,2420.3 810.5,2419.9 814.6,2419.4 818.7,2418.9 822.8,2418.2 826.8,2417.6 830.9,2416.8 835.0,2416.1 839.1,2415.2 843.2,2414.3 847.2,2413.4 851.3,2412.4 855.4,2411.3 859.5,2410.2 863.6,2409.1 867.6,2407.9 871.7,2406.6 875.8,2405.3 879.9,2403.9 884.0,2402.5 888.0,2401.0 892.1,2399.5 896.2,2397.9 900.3,2396.3 904.4,2394.6 908.4,2392.9 912.5,2391.1 916.6,2389.3 920.7,2387.4 924.7,2385.4 928.8,2383.5 932.9,2381.4 937.0,2379.3 941.1,2377.2 945.1,2375.0 949.2,2372.7 953.3,2370.4 957.4,2368.1 961.5,2365.7 965.5,2363.2 969.6,2360.7 973.7,2358.1 977.8,2355.5 981.9,2352.8 985.9,2350.1 990.0,2347.4 994.1,2344.5 998.2,2341.7 1002.2,2338.8 1006.3,2335.8 1010.4,2332.8 1014.5,2329.7 1018.6,2326.6 1022.6,2323.5 1026.7,2320.3 1030.8,2317.0 1034.9,2313.7 1039.0,2310.4 1043.0,2307.0 1047.1,2303.6 1051.2,2300.1 1055.3,2296.6 1059.4,2293.1 1063.4,2289.5 1067.5,2285.8 1071.6,2282.2 1075.7,2278.5 1079.7,2274.7 1083.8,2270.9 1087.9,2267.1 1092.0,2263.2 1096.1,2259.4 1100.1,2255.4 1104.2,2251.5 1108.3,2247.5 1112.4,2243.5 1116.5,2239.4 1120.5,2235.3 1124.6,2231.2 1128.7,2227.1 1132.8,2222.9 1136.9,2218.8 1140.9,2214.5 1145.0,2210.3 1149.1,2206.1 1153.2,2201.8 1157.2,2197.5 1161.3,2193.2 1165.4,2188.8 1169.5,2184.5 1173.6,2180.1 1177.6,2175.7 1181.7,2171.3 1185.8,2166.9 1189.9,2162.4 1194.0,2158.0 1198.0,2153.5 1202.1,2149.1 1206.2,2144.6 1210.3,2140.1 1214.4,2135.6 1218.4,2131.1 1222.5,2126.6 1226.6,2122.1 1230.7,2117.6 1234.7,2113.1 1238.8,2108.6 1242.9,2104.0 1247.0,2099.5 1251.1,2095.0 1255.1,2090.5 1259.2,2086.0 1263.3,2081.5 1267.4,2077.0 1271.5,2072.4 1275.5,2067.9 1279.6,2063.5 1283.7,2059.0 1287.8,2054.5 1291.9,2050.0 1295.9,2045.6 1300.0,2041.1 1304.1,2036.7 1308.2,2032.3 1312.3,2027.9 1316.3,2023.5 1320.4,2019.1 1324.5,2014.7 1328.6,2010.4 1332.6,2006.1 1336.7,2001.7 1340.8,1997.5 1344.9,1993.2 1349.0,1988.9 1353.0,1984.7 1357.1,1980.5 1361.2,1976.3 1365.3,1972.1 1369.4,1968.0 1373.4,1963.8 1377.5,1959.8 1381.6,1955.7 1385.7,1951.6 1389.8,1947.6 1393.8,1943.6 1397.9,1939.7 1402.0,1935.7 1406.1,1931.8 1410.1,1927.9 1414.2,1924.1 1418.3,1920.3 1422.4,1916.5 1426.5,1912.7 1430.5,1909.0 1434.6,1905.3 1438.7,1901.7 1442.8,1898.0 1446.9,1894.4 1450.9,1890.9 1455.0,1887.4 1459.1,1883.9 1463.2,1880.4 1467.3,1877.0 1471.3,1873.6 1475.4,1870.3 1479.5,1867.0 1483.6,1863.7 1487.6,1860.5 1491.7,1857.3 1495.8,1854.1 1499.9,1851.0 1504.0,1847.9 1508.0,1844.9 1512.1,1841.9 1516.2,1838.9 1520.3,1836.0 1524.4,1833.1 1528.4,1830.3 1532.5,1827.4 1536.6,1824.7 1540.7,1821.9 1544.8,1819.3 1548.8,1816.6 1552.9,1814.0 1557.0,1811.4 1561.1,1808.9 1565.1,1806.4 1569.2,1804.0 1573.3,1801.5 1577.4,1799.2 1581.5,1796.8 1585.5,1794.5 1589.6,1792.3 1593.7,1790.1 1597.8,1787.9 1601.9,1785.8 1605.9,1783.7 1610.0,1781.6 1614.1,1779.6 1618.2,1777.6 1622.3,1775.7 1626.3,1773.8 1630.4,1771.9 1634.5,1770.1 1638.6,1768.3 1642.6,1766.5 1646.7,1764.8 1650.8,1763.1 1654.9,1761.5 1659.0,1759.9 1663.0,1758.3 1667.1,1756.8 1671.2,1755.3 1675.3,1753.9 1679.4,1752.4 1683.4,1751.1 1687.5,1749.7 1691.6,1748.4 1695.7,1747.1 1699.8,1745.9 1703.8,1744.7 1707.9,1743.5 1712.0,1742.3 1716.1,1741.2 1720.2,1740.2 1724.2,1739.1 1728.3,1738.1 1732.4,1737.2 1736.5,1736.2 1740.5,1735.3 1744.6,1734.4 1748.7,1733.6 1752.8,1732.8 1756.9,1732.0 1760.9,1731.3 1765.0,1730.6 1769.1,1729.9 1773.2,1729.2 1777.3,1728.6 1781.3,1728.0 1785.4,1727.5 1789.5,1727.0 1793.6,1726.5 1797.7,1726.0 1801.7,1725.6 1805.8,1725.2 1809.9,1724.8 1814.0,1724.5 1818.0,1724.2 1822.1,1723.9 1826.2,1723.6 1830.3,1723.4 1834.4,1723.2 1838.4,1723.1 1842.5,1722.9 1846.6,1722.8 1850.7,1722.8 1854.8,1722.7 1858.8,1722.7 1862.9,1722.7 1867.0,1722.8 1871.1,1722.9 1875.2,1723.0 1879.2,1723.1 1883.3,1723.3 1887.4,1723.5 1891.5,1723.7 1895.5,1723.9 1899.6,1724.2 1903.7,1724.5 1907.8,1724.9 1911.9,1725.2 1915.9,1725.6 1920.0,1726.0 1924.1,1726.5 1928.2,1727.0 1932.3,1727.5 1936.3,1728.0 1940.4,1728.6 1944.5,1729.2 1948.6,1729.8 1952.7,1730.4 1956.7,1731.1 1960.8,1731.8 1964.9,1732.5 1969.0,1733.3 1973.0,1734.1 1977.1,1734.9 1981.2,1735.7 1985.3,1736.5 1989.4,1737.4 1993.4,1738.3 1997.5,1739.3 2001.6,1740.2 2005.7,1741.2 2009.8,1742.2 2013.8,1743.2 2017.9,1744.3 2022.0,1745.3 2026.1,1746.4 2030.2,1747.5 2034.2,1748.7 2038.3,1749.8 2042.4,1751.0 2046.5,1752.2 2050.5,1753.4 2054.6,1754.7 2058.7,1755.9 2062.8,1757.2 2066.9,1758.5 2070.9,1759.8 2075.0,1761.1 2079.1,1762.5 2083.2,1763.8 2087.3,1765.2 2091.3,1766.6 2095.4,1768.0 2099.5,1769.4 2103.6,1770.8 2107.7,1772.2 2111.7,1773.6 2115.8,1775.1 2119.9,1776.6 2124.0,1778.0 2128.1,1779.5 2132.1,1781.0 2136.2,1782.4 2140.3,1783.9 2144.4,1785.4 2148.4,1786.9 2152.5,1788.4 2156.6,1789.9 2160.7,1791.4 2164.8,1792.9 2168.8,1794.3 2172.9,1795.8 2177.0,1797.3 2181.1,1798.7 2185.2,1800.2 2189.2,1801.6 2193.3,1803.1 2197.4,1804.5 2201.5,1805.9 2205.6,1807.3 2209.6,1808.6 2213.7,1810.0 2217.8,1811.3 2221.9,1812.6 2225.9,1813.9 2230.0,1815.2 2234.1,1816.4 2238.2,1817.6 2242.3,1818.8 2246.3,1819.9 2250.4,1821.1 2254.5,1822.1 2258.6,1823.2 2262.7,1824.2 2266.7,1825.1 2270.8,1826.0 2274.9,1826.9 2279.0,1827.7 2283.1,1828.5 2287.1,1829.2 2291.2,1829.9 2295.3,1830.5 2299.4,1831.0 2303.4,1831.5 2307.5,1831.9 2311.6,1832.3" fill="none" stroke="#000" stroke-width="12" stroke-linejoin="round" stroke-linecap="butt"/>
<polyline points="229.7,1880.1 233.8,1886.7 237.9,1893.3 242.0,1899.9 246.1,1906.5 250.1,1913.0 254.2,1919.6 258.3,1926.1 262.4,1932.6 266.4,1939.1 270.5,1945.6 274.6,1952.1 278.7,1958.5 282.8,1965.0 286.8,1971.4 290.9,1977.8 295.0,1984.2 299.1,1990.6 303.2,1996.9 307.2,2003.2 311.3,2009.6 315.4,2015.8 319.5,2022.1 323.6,2028.3 327.6,2034.5 331.7,2040.7 335.8,2046.9 339.9,2053.0 343.9,2059.1 348.0,2065.2 352.1,2071.3 356.2,2077.3 360.3,2083.3 364.3,2089.2 368.4,2095.1 372.5,2101.0 376.6,2106.9 380.7,2112.7 384.7,2118.5 388.8,2124.2 392.9,2130.0 397.0,2135.6 401.1,2141.3 405.1,2146.9 409.2,2152.4 413.3,2157.9 417.4,2163.4 421.4,2168.9 425.5,2174.2 429.6,2179.6 433.7,2184.9 437.8,2190.2 441.8,2195.4 445.9,2200.5 450.0,2205.7 454.1,2210.7 458.2,2215.8 462.2,2220.7 466.3,2225.7 470.4,2230.6 474.5,2235.4 478.6,2240.2 482.6,2244.9 486.7,2249.6 490.8,2254.2 494.9,2258.7 499.0,2263.3 503.0,2267.7 507.1,2272.1 511.2,2276.5 515.3,2280.8 519.3,2285.0 523.4,2289.2 527.5,2293.3 531.6,2297.3 535.7,2301.3 539.7,2305.3 543.8,2309.2 547.9,2313.0 552.0,2316.7 556.1,2320.4 560.1,2324.1 564.2,2327.6 568.3,2331.1 572.4,2334.6 576.5,2338.0 580.5,2341.3 584.6,2344.5 588.7,2347.7 592.8,2350.9 596.8,2353.9 600.9,2356.9 605.0,2359.8 609.1,2362.7 613.2,2365.5 617.2,2368.2 621.3,2370.9 625.4,2373.5 629.5,2376.0 633.6,2378.5 637.6,2380.9 641.7,2383.2 645.8,2385.4 649.9,2387.6 654.0,2389.7 658.0,2391.8 662.1,2393.8 666.2,2395.7 670.3,2397.5 674.3,2399.3 678.4,2401.0 682.5,2402.7 686.6,2404.2 690.7,2405.7 694.7,2407.2 698.8,2408.5 702.9,2409.8 707.0,2411.1 711.1,2412.2 715.1,2413.3 719.2,2414.3 723.3,2415.3 727.4,2416.2 731.5,2417.0 735.5,2417.8 739.6,2418.4 743.7,2419.1 747.8,2419.6 751.8,2420.1 755.9,2420.5 760.0,2420.9 764.1,2421.2 768.2,2421.4 772.2,2421.6 776.3,2421.7 780.4,2421.8 784.5,2421.7 788.6,2421.7 792.6,2421.5 796.7,2421.3 800.8,2421.0 804.9,2420.7 809.0,2420.3 813.0,2419.9 817.1,2419.4 821.2,2418.9 825.3,2418.2 829.3,2417.6 833.4,2416.8 837.5,2416.1 841.6,2415.2 845.7,2414.3 849.7,2413.4 853.8,2412.4 857.9,2411.3 862.0,2410.2 866.1,2409.1 870.1,2407.9 874.2,2406.6 878.3,2405.3 882.4,2403.9 886.5,2402.5 890.5,2401.0 894.6,2399.5 898.7,2397.9 902.8,2396.3 906.9,2394.6 910.9,2392.9 915.0,2391.1 919.1,2389.3 923.2,2387.4 927.2,2385.4 931.3,2383.5 935.4,2381.4 939.5,2379.3 943.6,2377.2 947.6,2375.0 951.7,2372.7 955.8,2370.4 959.9,2368.1 964.0,2365.7 968.0,2363.2 972.1,2360.7 976.2,2358.1 980.3,2355.5 984.4,2352.8 988.4,2350.1 992.5,2347.4 996.6,2344.5 1000.7,2341.7 1004.7,2338.8 1008.8,2335.8 1012.9,2332.8 1017.0,2329.7 1021.1,2326.6 1025.1,2323.5 1029.2,2320.3 1033.3,2317.0 1037.4,2313.7 1041.5,2310.4 1045.5,2307.0 1049.6,2303.6 1053.7,2300.1 1057.8,2296.6 1061.9,2293.1 1065.9,2289.5 1070.0,2285.8 1074.1,2282.2 1078.2,2278.5 1082.2,2274.7 1086.3,2270.9 1090.4,2267.1 1094.5,2263.2 1098.6,2259.4 1102.6,2255.4 1106.7,2251.5 1110.8,2247.5 1114.9,2243.5 1119.0,2239.4 1123.0,2235.3 1127.1,2231.2 1131.2,2227.1 1135.3,2222.9 1139.4,2218.8 1143.4,2214.5 1147.5,2210.3 1151.6,2206.1 1155.7,2201.8 1159.7,2197.5 1163.8,2193.2 1167.9,2188.8 1172.0,2184.5 1176.1,2180.1 1180.1,2175.7 1184.2,2171.3 1188.3,2166.9 1192.4,2162.4 1196.5,2158.0 1200.5,2153.5 1204.6,2149.1 1208.7,2144.6 1212.8,2140.1 1216.9,2135.6 1220.9,2131.1 1225.0,2126.6 1229.1,2122.1 1233.2,2117.6 1237.2,2113.1 1241.3,2108.6 1245.4,2104.0 1249.5,2099.5 1253.6,2095.0 1257.6,2090.5 1261.7,2086.0 1265.8,2081.5 1269.9,2077.0 1274.0,2072.4 1278.0,2067.9 1282.1,2063.5 1286.2,2059.0 1290.3,2054.5 1294.4,2050.0 1298.4,2045.6 1302.5,2041.1 1306.6,2036.7 1310.7,2032.3 1314.8,2027.9 1318.8,2023.5 1322.9,2019.1 1327.0,2014.7 1331.1,2010.4 1335.1,2006.1 1339.2,2001.7 1343.3,1997.5 1347.4,1993.2 1351.5,1988.9 1355.5,1984.7 1359.6,1980.5 1363.7,1976.3 1367.8,1972.1 1371.9,1968.0 1375.9,1963.8 1380.0,1959.8 1384.1,1955.7 1388.2,1951.6 1392.3,1947.6 1396.3,1943.6 1400.4,1939.7 1404.5,1935.7 1408.6,1931.8 1412.6,1927.9 1416.7,1924.1 1420.8,1920.3 1424.9,1916.5 1429.0,1912.7 1433.0,1909.0 1437.1,1905.3 1441.2,1901.7 1445.3,1898.0 1449.4,1894.4 1453.4,1890.9 1457.5,1887.4 1461.6,1883.9 1465.7,1880.4 1469.8,1877.0 1473.8,1873.6 1477.9,1870.3 1482.0,1867.0 1486.1,1863.7 1490.1,1860.5 1494.2,1857.3 1498.3,1854.1 1502.4,1851.0 1506.5,1847.9 1510.5,1844.9 1514.6,1841.9 1518.7,1838.9 1522.8,1836.0 1526.9,1833.1 1530.9,1830.3 1535.0,1827.4 1539.1,1824.7 1543.2,1821.9 1547.3,1819.3 1551.3,1816.6 1555.4,1814.0 1559.5,1811.4 1563.6,1808.9 1567.6,1806.4 1571.7,1804.0 1575.8,1801.5 1579.9,1799.2 1584.0,1796.8 1588.0,1794.5 1592.1,1792.3 1596.2,1790.1 1600.3,1787.9 1604.4,1785.8 1608.4,1783.7 1612.5,1781.6 1616.6,1779.6 1620.7,1777.6 1624.8,1775.7 1628.8,1773.8 1632.9,1771.9 1637.0,1770.1 1641.1,1768.3 1645.1,1766.5 1649.2,1764.8 1653.3,1763.1 1657.4,1761.5 1661.5,1759.9 1665.5,1758.3 1669.6,1756.8 1673.7,1755.3 1677.8,1753.9 1681.9,1752.4 1685.9,1751.1 1690.0,1749.7 1694.1,1748.4 1698.2,1747.1 1702.3,1745.9 1706.3,1744.7 1710.4,1743.5 1714.5,1742.3 1718.6,1741.2 1722.7,1740.2 1726.7,1739.1 1730.8,1738.1 1734.9,1737.2 1739.0,1736.2 1743.0,1735.3 1747.1,1734.4 1751.2,1733.6 1755.3,1732.8 1759.4,1732.0 1763.4,1731.3 1767.5,1730.6 1771.6,1729.9 1775.7,1729.2 1779.8,1728.6 1783.8,1728.0 1787.9,1727.5 1792.0,1727.0 1796.1,1726.5 1800.2,1726.0 1804.2,1725.6 1808.3,1725.2 1812.4,1724.8 1816.5,1724.5 1820.5,1724.2 1824.6,1723.9 1828.7,1723.6 1832.8,1723.4 1836.9,1723.2 1840.9,1723.1 1845.0,1722.9 1849.1,1722.8 1853.2,1722.8 1857.3,1722.7 1861.3,1722.7 1865.4,1722.7 1869.5,1722.8 1873.6,1722.9 1877.7,1723.0 1881.7,1723.1 1885.8,1723.3 1889.9,1723.5 1894.0,1723.7 1898.0,1723.9 1902.1,1724.2 1906.2,1724.5 1910.3,1724.9 1914.4,1725.2 1918.4,1725.6 1922.5,1726.0 1926.6,1726.5 1930.7,1727.0 1934.8,1727.5 1938.8,1728.0 1942.9,1728.6 1947.0,1729.2 1951.1,1729.8 1955.2,1730.4 1959.2,1731.1 1963.3,1731.8 1967.4,1732.5 1971.5,1733.3 1975.5,1734.1 1979.6,1734.9 1983.7,1735.7 1987.8,1736.5 1991.9,1737.4 1995.9,1738.3 2000.0,1739.3 2004.1,1740.2 2008.2,1741.2 2012.3,1742.2 2016.3,1743.2 2020.4,1744.3 2024.5,1745.3 2028.6,1746.4 2032.7,1747.5 2036.7,1748.7 2040.8,1749.8 2044.9,1751.0 2049.0,1752.2 2053.0,1753.4 2057.1,1754.7 2061.2,1755.9 2065.3,1757.2 2069.4,1758.5 2073.4,1759.8 2077.5,1761.1 2081.6,1762.5 2085.7,1763.8 2089.8,1765.2 2093.8,1766.6 2097.9,1768.0 2102.0,1769.4 2106.1,1770.8 2110.2,1772.2 2114.2,1773.6 2118.3,1775.1 2122.4,1776.6 2126.5,1778.0 2130.6,1779.5 2134.6,1781.0 2138.7,1782.4 2142.8,1783.9 2146.9,1785.4 2150.9,1786.9 2155.0,1788.4 2159.1,1789.9 2163.2,1791.4 2167.3,1792.9 2171.3,1794.3 2175.4,1795.8 2179.5,1797.3 2183.6,1798.7 2187.7,1800.2 2191.7,1801.6 2195.8,1803.1 2199.9,1804.5 2204.0,1805.9 2208.1,1807.3 2212.1,1808.6 2216.2,1810.0 2220.3,1811.3 2224.4,1812.6 2228.4,1813.9 2232.5,1815.2 2236.6,1816.4 2240.7,1817.6 2244.8,1818.8 2248.8,1819.9 2252.9,1821.1 2257.0,1822.1 2261.1,1823.2 2265.2,1824.2 2269.2,1825.1 2273.3,1826.0 2277.4,1826.9 2281.5,1827.7 2285.6,1828.5 2289.6,1829.2 2293.7,1829.9 2297.8,1830.5 2301.9,1831.0 2305.9,1831.5 2310.0,1831.9 2314.1,1832.3" fill="none" stroke="#000" stroke-width="12" stroke-linejoin="round" stroke-linecap="butt"/>
<polyline points="228.2,1873.5 232.2,1880.1 236.3,1886.7 240.4,1893.3 244.5,1899.9 248.6,1906.5 252.6,1913.0 256.7,1919.6 260.8,1926.1 264.9,1932.6 268.9,1939.1 273.0,1945.6 277.1,1952.1 281.2,1958.5 285.3,1965.0 289.3,1971.4 293.4,1977.8 297.5,1984.2 301.6,1990.6 305.7,1996.9 309.7,2003.2 313.8,2009.6 317.9,2015.8 322.0,2022.1 326.1,2028.3 330.1,2034.5 334.2,2040.7 338.3,2046.9 342.4,2053.0 346.4,2059.1 350.5,2065.2 354.6,2071.3 358.7,2077.3 362.8,2083.3 366.8,2089.2 370.9,2095.1 375.0,2101.0 379.1,2106.9 383.2,2112.7 387.2,2118.5 391.3,2124.2 395.4,2130.0 399.5,2135.6 403.6,2141.3 407.6,2146.9 411.7,2152.4 415.8,2157.9 419.9,2163.4 423.9,2168.9 428.0,2174.2 432.1,2179.6 436.2,2184.9 440.3,2190.2 444.3,2195.4 448.4,2200.5 452.5,2205.7 456.6,2210.7 460.7,2215.8 464.7,2220.7 468.8,2225.7 472.9,2230.6 477.0,2235.4 481.1,2240.2 485.1,2244.9 489.2,2249.6 493.3,2254.2 497.4,2258.7 501.5,2263.3 505.5,2267.7 509.6,2272.1 513.7,2276.5 517.8,2280.8 521.8,2285.0 525.9,2289.2 530.0,2293.3 534.1,2297.3 538.2,2301.3 542.2,2305.3 546.3,2309.2 550.4,2313.0 554.5,2316.7 558.6,2320.4 562.6,2324.1 566.7,2327.6 570.8,2331.1 574.9,2334.6 579.0,2338.0 583.0,2341.3 587.1,2344.5 591.2,2347.7 595.3,2350.9 599.3,2353.9 603.4,2356.9 607.5,2359.8 611.6,2362.7 615.7,2365.5 619.7,2368.2 623.8,2370.9 627.9,2373.5 632.0,2376.0 636.1,2378.5 640.1,2380.9 644.2,2383.2 648.3,2385.4 652.4,2387.6 656.5,2389.7 660.5,2391.8 664.6,2393.8 668.7,2395.7 672.8,2397.5 676.8,2399.3 680.9,2401.0 685.0,2402.7 689.1,2404.2 693.2,2405.7 697.2,2407.2 701.3,2408.5 705.4,2409.8 709.5,2411.1 713.6,2412.2 717.6,2413.3 721.7,2414.3 725.8,2415.3 729.9,2416.2 734.0,2417.0 738.0,2417.8 742.1,2418.4 746.2,2419.1 750.3,2419.6 754.3,2420.1 758.4,2420.5 762.5,2420.9 766.6,2421.2 770.7,2421.4 774.7,2421.6 778.8,2421.7 782.9,2421.8 787.0,2421.7 791.1,2421.7 795.1,2421.5 799.2,2421.3 803.3,2421.0 807.4,2420.7 811.5,2420.3 815.5,2419.9 819.6,2419.4 823.7,2418.9 827.8,2418.2 831.8,2417.6 835.9,2416.8 840.0,2416.1 844.1,2415.2 848.2,2414.3 852.2,2413.4 856.3,2412.4 860.4,2411.3 864.5,2410.2 868.6,2409.1 872.6,2407.9 876.7,2406.6 880.8,2405.3 884.9,2403.9 889.0,2402.5 893.0,2401.0 897.1,2399.5 901.2,2397.9 905.3,2396.3 909.4,2394.6 913.4,2392.9 917.5,2391.1 921.6,2389.3 925.7,2387.4 929.7,2385.4 933.8,2383.5 937.9,2381.4 942.0,2379.3 946.1,2377.2 950.1,2375.0 954.2,2372.7 958.3,2370.4 962.4,2368.1 966.5,2365.7 970.5,2363.2 974.6,2360.7 978.7,2358.1 982.8,2355.5 986.9,2352.8 990.9,2350.1 995.0,2347.4 999.1,2344.5 1003.2,2341.7 1007.2,2338.8 1011.3,2335.8 1015.4,2332.8 1019.5,2329.7 1023.6,2326.6 1027.6,2323.5 1031.7,2320.3 1035.8,2317.0 1039.9,2313.7 1044.0,2310.4 1048.0,2307.0 1052.1,2303.6 1056.2,2300.1 1060.3,2296.6 1064.4,2293.1 1068.4,2289.5 1072.5,2285.8 1076.6,2282.2 1080.7,2278.5 1084.7,2274.7 1088.8,2270.9 1092.9,2267.1 1097.0,2263.2 1101.1,2259.4 1105.1,2255.4 1109.2,2251.5 1113.3,2247.5 1117.4,2243.5 1121.5,2239.4 1125.5,2235.3 1129.6,2231.2 1133.7,2227.1 1137.8,2222.9 1141.9,2218.8 1145.9,2214.5 1150.0,2210.3 1154.1,2206.1 1158.2,2201.8 1162.2,2197.5 1166.3,2193.2 1170.4,2188.8 1174.5,2184.5 1178.6,2180.1 1182.6,2175.7 1186.7,2171.3 1190.8,2166.9 1194.9,2162.4 1199.0,2158.0 1203.0,2153.5 1207.1,2149.1 1211.2,2144.6 1215.3,2140.1 1219.4,2135.6 1223.4,2131.1 1227.5,2126.6 1231.6,2122.1 1235.7,2117.6 1239.7,2113.1 1243.8,2108.6 1247.9,2104.0 1252.0,2099.5 1256.1,2095.0 1260.1,2090.5 1264.2,2086.0 1268.3,2081.5 1272.4,2077.0 1276.5,2072.4 1280.5,2067.9 1284.6,2063.5 1288.7,2059.0 1292.8,2054.5 1296.9,2050.0 1300.9,2045.6 1305.0,2041.1 1309.1,2036.7 1313.2,2032.3 1317.3,2027.9 1321.3,2023.5 1325.4,2019.1 1329.5,2014.7 1333.6,2010.4 1337.6,2006.1 1341.7,2001.7 1345.8,1997.5 1349.9,1993.2 1354.0,1988.9 1358.0,1984.7 1362.1,1980.5 1366.2,1976.3 1370.3,1972.1 1374.4,1968.0 1378.4,1963.8 1382.5,1959.8 1386.6,1955.7 1390.7,1951.6 1394.8,1947.6 1398.8,1943.6 1402.9,1939.7 1407.0,1935.7 1411.1,1931.8 1415.1,1927.9 1419.2,1924.1 1423.3,1920.3 1427.4,1916.5 1431.5,1912.7 1435.5,1909.0 1439.6,1905.3 1443.7,1901.7 1447.8,1898.0 1451.9,1894.4 1455.9,1890.9 1460.0,1887.4 1464.1,1883.9 1468.2,1880.4 1472.3,1877.0 1476.3,1873.6 1480.4,1870.3 1484.5,1867.0 1488.6,1863.7 1492.6,1860.5 1496.7,1857.3 1500.8,1854.1 1504.9,1851.0 1509.0,1847.9 1513.0,1844.9 1517.1,1841.9 1521.2,1838.9 1525.3,1836.0 1529.4,1833.1 1533.4,1830.3 1537.5,1827.4 1541.6,1824.7 1545.7,1821.9 1549.8,1819.3 1553.8,1816.6 1557.9,1814.0 1562.0,1811.4 1566.1,1808.9 1570.1,1806.4 1574.2,1804.0 1578.3,1801.5 1582.4,1799.2 1586.5,1796.8 1590.5,1794.5 1594.6,1792.3 1598.7,1790.1 1602.8,1787.9 1606.9,1785.8 1610.9,1783.7 1615.0,1781.6 1619.1,1779.6 1623.2,1777.6 1627.3,1775.7 1631.3,1773.8 1635.4,1771.9 1639.5,1770.1 1643.6,1768.3 1647.6,1766.5 1651.7,1764.8 1655.8,1763.1 1659.9,1761.5 1664.0,1759.9 1668.0,1758.3 1672.1,1756.8 1676.2,1755.3 1680.3,1753.9 1684.4,1752.4 1688.4,1751.1 1692.5,1749.7 1696.6,1748.4 1700.7,1747.1 1704.8,1745.9 1708.8,1744.7 1712.9,1743.5 1717.0,1742.3 1721.1,1741.2 1725.2,1740.2 1729.2,1739.1 1733.3,1738.1 1737.4,1737.2 1741.5,1736.2 1745.5,1735.3 1749.6,1734.4 1753.7,1733.6 1757.8,1732.8 1761.9,1732.0 1765.9,1731.3 1770.0,1730.6 1774.1,1729.9 1778.2,1729.2 1782.3,1728.6 1786.3,1728.0 1790.4,1727.5 1794.5,1727.0 1798.6,1726.5 1802.7,1726.0 1806.7,1725.6 1810.8,1725.2 1814.9,1724.8 1819.0,1724.5 1823.0,1724.2 1827.1,1723.9 1831.2,1723.6 1835.3,1723.4 1839.4,1723.2 1843.4,1723.1 1847.5,1722.9 1851.6,1722.8 1855.7,1722.8 1859.8,1722.7 1863.8,1722.7 1867.9,1722.7 1872.0,1722.8 1876.1,1722.9 1880.2,1723.0 1884.2,1723.1 1888.3,1723.3 1892.4,1723.5 1896.5,1723.7 1900.5,1723.9 1904.6,1724.2 1908.7,1724.5 1912.8,1724.9 1916.9,1725.2 1920.9,1725.6 1925.0,1726.0 1929.1,1726.5 1933.2,1727.0 1937.3,1727.5 1941.3,1728.0 1945.4,1728.6 1949.5,1729.2 1953.6,1729.8 1957.7,1730.4 1961.7,1731.1 1965.8,1731.8 1969.9,1732.5 1974.0,1733.3 1978.0,1734.1 1982.1,1734.9 1986.2,1735.7 1990.3,1736.5 1994.4,1737.4 1998.4,1738.3 2002.5,1739.3 2006.6,1740.2 2010.7,1741.2 2014.8,1742.2 2018.8,1743.2 2022.9,1744.3 2027.0,1745.3 2031.1,1746.4 2035.2,1747.5 2039.2,1748.7 2043.3,1749.8 2047.4,1751.0 2051.5,1752.2 2055.5,1753.4 2059.6,1754.7 2063.7,1755.9 2067.8,1757.2 2071.9,1758.5 2075.9,1759.8 2080.0,1761.1 2084.1,1762.5 2088.2,1763.8 2092.3,1765.2 2096.3,1766.6 2100.4,1768.0 2104.5,1769.4 2108.6,1770.8 2112.7,1772.2 2116.7,1773.6 2120.8,1775.1 2124.9,1776.6 2129.0,1778.0 2133.1,1779.5 2137.1,1781.0 2141.2,1782.4 2145.3,1783.9 2149.4,1785.4 2153.4,1786.9 2157.5,1788.4 2161.6,1789.9 2165.7,1791.4 2169.8,1792.9 2173.8,1794.3 2177.9,1795.8 2182.0,1797.3 2186.1,1798.7 2190.2,1800.2 2194.2,1801.6 2198.3,1803.1 2202.4,1804.5 2206.5,1805.9 2210.6,1807.3 2214.6,1808.6 2218.7,1810.0 2222.8,1811.3 2226.9,1812.6 2230.9,1813.9 2235.0,1815.2 2239.1,1816.4 2243.2,1817.6 2247.3,1818.8 2251.3,1819.9 2255.4,1821.1 2259.5,1822.1 2263.6,1823.2 2267.7,1824.2 2271.7,1825.1 2275.8,1826.0 2279.9,1826.9 2284.0,1827.7 2288.1,1828.5 2292.1,1829.2 2296.2,1829.9 2300.3,1830.5 2304.4,1831.0 2308.4,1831.5 2312.5,1831.9 2316.6,1832.3 2320.7,1832.6" fill="none" stroke="#000" stroke-width="12" stroke-linejoin="round" stroke-linecap="butt"/>
<polyline points="220.0,1860.3 224.1,1866.9 228.2,1873.5 232.2,1880.1 236.3,1886.7 240.4,1893.3 244.5,1899.9 248.6,1906.5 252.6,1913.0 256.7,1919.6 260.8,1926.1 264.9,1932.6 268.9,1939.1 273.0,1945.6 277.1,1952.1 281.2,1958.5 285.3,1965.0 289.3,1971.4 293.4,1977.8 297.5,1984.2 301.6,1990.6 305.7,1996.9 309.7,2003.2 313.8,2009.6 317.9,2015.8 322.0,2022.1 326.1,2028.3 330.1,2034.5 334.2,2040.7 338.3,2046.9 342.4,2053.0 346.4,2059.1 350.5,2065.2 354.6,2071.3 358.7,2077.3 362.8,2083.3 366.8,2089.2 370.9,2095.1 375.0,2101.0 379.1,2106.9 383.2,2112.7 387.2,2118.5 391.3,2124.2 395.4,2130.0 399.5,2135.6 403.6,2141.3 407.6,2146.9 411.7,2152.4 415.8,2157.9 419.9,2163.4 423.9,2168.9 428.0,2174.2 432.1,2179.6 436.2,2184.9 440.3,2190.2 444.3,2195.4 448.4,2200.5 452.5,2205.7 456.6,2210.7 460.7,2215.8 464.7,2220.7 468.8,2225.7 472.9,2230.6 477.0,2235.4 481.1,2240.2 485.1,2244.9 489.2,2249.6 493.3,2254.2 497.4,2258.7 501.5,2263.3 505.5,2267.7 509.6,2272.1 513.7,2276.5 517.8,2280.8 521.8,2285.0 525.9,2289.2 530.0,2293.3 534.1,2297.3 538.2,2301.3 542.2,2305.3 546.3,2309.2 550.4,2313.0 554.5,2316.7 558.6,2320.4 562.6,2324.1 566.7,2327.6 570.8,2331.1 574.9,2334.6 579.0,2338.0 583.0,2341.3 587.1,2344.5 591.2,2347.7 595.3,2350.9 599.3,2353.9 603.4,2356.9 607.5,2359.8 611.6,2362.7 615.7,2365.5 619.7,2368.2 623.8,2370.9 627.9,2373.5 632.0,2376.0 636.1,2378.5 640.1,2380.9 644.2,2383.2 648.3,2385.4 652.4,2387.6 656.5,2389.7 660.5,2391.8 664.6,2393.8 668.7,2395.7 672.8,2397.5 676.8,2399.3 680.9,2401.0 685.0,2402.7 689.1,2404.2 693.2,2405.7 697.2,2407.2 701.3,2408.5 705.4,2409.8 709.5,2411.1 713.6,2412.2 717.6,2413.3 721.7,2414.3 725.8,2415.3 729.9,2416.2 734.0,2417.0 738.0,2417.8 742.1,2418.4 746.2,2419.1 750.3,2419.6 754.3,2420.1 758.4,2420.5 762.5,2420.9 766.6,2421.2 770.7,2421.4 774.7,2421.6 778.8,2421.7 782.9,2421.8 787.0,2421.7 791.1,2421.7 795.1,2421.5 799.2,2421.3 803.3,2421.0 807.4,2420.7 811.5,2420.3 815.5,2419.9 819.6,2419.4 823.7,2418.9 827.8,2418.2 831.8,2417.6 835.9,2416.8 840.0,2416.1 844.1,2415.2 848.2,2414.3 852.2,2413.4 856.3,2412.4 860.4,2411.3 864.5,2410.2 868.6,2409.1 872.6,2407.9 876.7,2406.6 880.8,2405.3 884.9,2403.9 889.0,2402.5 893.0,2401.0 897.1,2399.5 901.2,2397.9 905.3,2396.3 909.4,2394.6 913.4,2392.9 917.5,2391.1 921.6,2389.3 925.7,2387.4 929.7,2385.4 933.8,2383.5 937.9,2381.4 942.0,2379.3 946.1,2377.2 950.1,2375.0 954.2,2372.7 958.3,2370.4 962.4,2368.1 966.5,2365.7 970.5,2363.2 974.6,2360.7 978.7,2358.1 982.8,2355.5 986.9,2352.8 990.9,2350.1 995.0,2347.4 999.1,2344.5 1003.2,2341.7 1007.2,2338.8 1011.3,2335.8 1015.4,2332.8 1019.5,2329.7 1023.6,2326.6 1027.6,2323.5 1031.7,2320.3 1035.8,2317.0 1039.9,2313.7 1044.0,2310.4 1048.0,2307.0 1052.1,2303.6 1056.2,2300.1 1060.3,2296.6 1064.4,2293.1 1068.4,2289.5 1072.5,2285.8 1076.6,2282.2 1080.7,2278.5 1084.7,2274.7 1088.8,2270.9 1092.9,2267.1 1097.0,2263.2 1101.1,2259.4 1105.1,2255.4 1109.2,2251.5 1113.3,2247.5 1117.4,2243.5 1121.5,2239.4 1125.5,2235.3 1129.6,2231.2 1133.7,2227.1 1137.8,2222.9 1141.9,2218.8 1145.9,2214.5 1150.0,2210.3 1154.1,2206.1 1158.2,2201.8 1162.2,2197.5 1166.3,2193.2 1170.4,2188.8 1174.5,2184.5 1178.6,2180.1 1182.6,2175.7 1186.7,2171.3 1190.8,2166.9 1194.9,2162.4 1199.0,2158.0 1203.0,2153.5 1207.1,2149.1 1211.2,2144.6 1215.3,2140.1 1219.4,2135.6 1223.4,2131.1 1227.5,2126.6 1231.6,2122.1 1235.7,2117.6 1239.7,2113.1 1243.8,2108.6 1247.9,2104.0 1252.0,2099.5 1256.1,2095.0 1260.1,2090.5 1264.2,2086.0 1268.3,2081.5 1272.4,2077.0 1276.5,2072.4 1280.5,2067.9 1284.6,2063.5 1288.7,2059.0 1292.8,2054.5 1296.9,2050.0 1300.9,2045.6 1305.0,2041.1 1309.1,2036.7 1313.2,2032.3 1317.3,2027.9 1321.3,2023.5 1325.4,2019.1 1329.5,2014.7 1333.6,2010.4 1337.6,2006.1 1341.7,2001.7 1345.8,1997.5 1349.9,1993.2 1354.0,1988.9 1358.0,1984.7 1362.1,1980.5 1366.2,1976.3 1370.3,1972.1 1374.4,1968.0 1378.4,1963.8 1382.5,1959.8 1386.6,1955.7 1390.7,1951.6 1394.8,1947.6 1398.8,1943.6 1402.9,1939.7 1407.0,1935.7 1411.1,1931.8 1415.1,1927.9 1419.2,1924.1 1423.3,1920.3 1427.4,1916.5 1431.5,1912.7 1435.5,1909.0 1439.6,1905.3 1443.7,1901.7 1447.8,1898.0 1451.9,1894.4 1455.9,1890.9 1460.0,1887.4 1464.1,1883.9 1468.2,1880.4 1472.3,1877.0 1476.3,1873.6 1480.4,1870.3 1484.5,1867.0 1488.6,1863.7 1492.6,1860.5 1496.7,1857.3 1500.8,1854.1 1504.9,1851.0 1509.0,1847.9 1513.0,1844.9 1517.1,1841.9 1521.2,1838.9 1525.3,1836.0 1529.4,1833.1 1533.4,1830.3 1537.5,1827.4 1541.6,1824.7 1545.7,1821.9 1549.8,1819.3 1553.8,1816.6 1557.9,1814.0 1562.0,1811.4 1566.1,1808.9 1570.1,1806.4 1574.2,1804.0 1578.3,1801.5 1582.4,1799.2 1586.5,1796.8 1590.5,1794.5 1594.6,1792.3 1598.7,1790.1 1602.8,1787.9 1606.9,1785.8 1610.9,1783.7 1615.0,1781.6 1619.1,1779.6 1623.2,1777.6 1627.3,1775.7 1631.3,1773.8 1635.4,1771.9 1639.5,1770.1 1643.6,1768.3 1647.6,1766.5 1651.7,1764.8 1655.8,1763.1 1659.9,1761.5 1664.0,1759.9 1668.0,1758.3 1672.1,1756.8 1676.2,1755.3 1680.3,1753.9 1684.4,1752.4 1688.4,1751.1 1692.5,1749.7 1696.6,1748.4 1700.7,1747.1 1704.8,1745.9 1708.8,1744.7 1712.9,1743.5 1717.0,1742.3 1721.1,1741.2 1725.2,1740.2 1729.2,1739.1 1733.3,1738.1 1737.4,1737.2 1741.5,1736.2 1745.5,1735.3 1749.6,1734.4 1753.7,1733.6 1757.8,1732.8 1761.9,1732.0 1765.9,1731.3 1770.0,1730.6 1774.1,1729.9 1778.2,1729.2 1782.3,1728.6 1786.3,1728.0 1790.4,1727.5 1794.5,1727.0 1798.6,1726.5 1802.7,1726.0 1806.7,1725.6 1810.8,1725.2 1814.9,1724.8 1819.0,1724.5 1823.0,1724.2 1827.1,1723.9 1831.2,1723.6 1835.3,1723.4 1839.4,1723.2 1843.4,1723.1 1847.5,1722.9 1851.6,1722.8 1855.7,1722.8 1859.8,1722.7 1863.8,1722.7 1867.9,1722.7 1872.0,1722.8 1876.1,1722.9 1880.2,1723.0 1884.2,1723.1 1888.3,1723.3 1892.4,1723.5 1896.5,1723.7 1900.5,1723.9 1904.6,1724.2 1908.7,1724.5 1912.8,1724.9 1916.9,1725.2 1920.9,1725.6 1925.0,1726.0 1929.1,1726.5 1933.2,1727.0 1937.3,1727.5 1941.3,1728.0 1945.4,1728.6 1949.5,1729.2 1953.6,1729.8 1957.7,1730.4 1961.7,1731.1 1965.8,1731.8 1969.9,1732.5 1974.0,1733.3 1978.0,1734.1 1982.1,1734.9 1986.2,1735.7 1990.3,1736.5 1994.4,1737.4 1998.4,1738.3 2002.5,1739.3 2006.6,1740.2 2010.7,1741.2 2014.8,1742.2 2018.8,1743.2 2022.9,1744.3 2027.0,1745.3 2031.1,1746.4 2035.2,1747.5 2039.2,1748.7 2043.3,1749.8 2047.4,1751.0 2051.5,1752.2 2055.5,1753.4 2059.6,1754.7 2063.7,1755.9 2067.8,1757.2 2071.9,1758.5 2075.9,1759.8 2080.0,1761.1 2084.1,1762.5 2088.2,1763.8 2092.3,1765.2 2096.3,1766.6 2100.4,1768.0 2104.5,1769.4 2108.6,1770.8 2112.7,1772.2 2116.7,1773.6 2120.8,1775.1 2124.9,1776.6 2129.0,1778.0 2133.1,1779.5 2137.1,1781.0 2141.2,1782.4 2145.3,1783.9 2149.4,1785.4 2153.4,1786.9 2157.5,1788.4 2161.6,1789.9 2165.7,1791.4 2169.8,1792.9 2173.8,1794.3 2177.9,1795.8 2182.0,1797.3 2186.1,1798.7 2190.2,1800.2 2194.2,1801.6 2198.3,1803.1 2202.4,1804.5 2206.5,1805.9 2210.6,1807.3 2214.6,1808.6 2218.7,1810.0 2222.8,1811.3 2226.9,1812.6 2230.9,1813.9 2235.0,1815.2 2239.1,1816.4 2243.2,1817.6 2247.3,1818.8 2251.3,1819.9 2255.4,1821.1 2259.5,1822.1 2263.6,1823.2 2267.7,1824.2 2271.7,1825.1 2275.8,1826.0 2279.9,1826.9 2284.0,1827.7 2288.1,1828.5 2292.1,1829.2 2296.2,1829.9 2300.3,1830.5 2304.4,1831.0 2308.4,1831.5 2312.5,1831.9 2316.6,1832.3 2320.7,1832.6 2324.8,1832.8 2328.8,1832.9 2332.9,1833.0 2337.0,1833.0" fill="none" stroke="#000" stroke-width="7" stroke-linejoin="round" stroke-linecap="butt"/>
<polyline points="2318.0,1833.5 2342.0,1835.5" fill="none" stroke="#000" stroke-width="9" stroke-linejoin="round" stroke-linecap="butt"/>
<line x1="2332.4" y1="1585" x2="2332.4" y2="1833" stroke="#000" stroke-width="20" stroke-dasharray="12.6 14.049999999999999" stroke-dashoffset="25.949999999999953"/>
<line x1="2334.2" y1="1833" x2="2334.2" y2="2708" stroke="#000" stroke-width="20" stroke-dasharray="25.6 27.699999999999996" stroke-dashoffset="34.59999999999995"/>
<line x1="2354" y1="1588" x2="2354" y2="1840" stroke="#000" stroke-width="13" stroke-dasharray="12.6 14.049999999999999" stroke-dashoffset="0.0"/>
<line x1="2354" y1="1840" x2="2354" y2="2708" stroke="#000" stroke-width="13" stroke-dasharray="25.8 27.499999999999996" stroke-dashoffset="28.299999999999997"/>
<line x1="2363.7" y1="1574.2" x2="2363.7" y2="2708" stroke="#000" stroke-width="27" stroke-dasharray="12.6 14.110000000000001" stroke-dashoffset="0.0"/>
<line x1="2370.8" y1="1590" x2="2370.8" y2="1840" stroke="#000" stroke-width="6.7" stroke-dasharray="12.6 14.049999999999999" stroke-dashoffset="23.65"/>
<line x1="2365.2" y1="1850" x2="2365.2" y2="2708" stroke="#000" stroke-width="9.5" stroke-dasharray="25.8 27.499999999999996" stroke-dashoffset="35.59999999999995"/>
<line x1="2370.8" y1="1850" x2="2370.8" y2="2708" stroke="#000" stroke-width="6.7" stroke-dasharray="25.8 27.499999999999996" stroke-dashoffset="15.299999999999997"/>
<line x1="2355" y1="1843" x2="2377" y2="1843" stroke="#000" stroke-width="12"/>
<rect x="1411" y="1838.5" width="924.5" height="848.5" fill="#fff"/>
<line x1="1424.5" y1="1883.3" x2="1579.1" y2="1883.3" stroke="#000" stroke-width="7"/>
<line x1="1424.5" y1="1978.2" x2="1570.5" y2="1978.2" stroke="#000" stroke-width="20" stroke-dasharray="12.6 13.9" stroke-dashoffset="0"/>
<line x1="1424.5" y1="2071.6" x2="1558" y2="2071.6" stroke="#000" stroke-width="20" stroke-dasharray="25.5 27.4" stroke-dashoffset="0"/>
<line x1="1424.5" y1="2165.7" x2="1570.5" y2="2165.7" stroke="#000" stroke-width="14" stroke-dasharray="12.6 13.9" stroke-dashoffset="0"/>
<line x1="1424.5" y1="2260.4" x2="1558" y2="2260.4" stroke="#000" stroke-width="14" stroke-dasharray="25.5 27.4" stroke-dashoffset="0"/>
<line x1="1424.5" y1="2353.6" x2="1570.5" y2="2353.6" stroke="#000" stroke-width="10" stroke-dasharray="12.6 13.9" stroke-dashoffset="0"/>
<line x1="1424.5" y1="2447.6" x2="1558" y2="2447.6" stroke="#000" stroke-width="10" stroke-dasharray="25.5 27.4" stroke-dashoffset="0"/>
<line x1="1424.5" y1="2542.8" x2="1570.5" y2="2542.8" stroke="#000" stroke-width="6.5" stroke-dasharray="12.6 13.9" stroke-dashoffset="0"/>
<line x1="1424.5" y1="2636.7" x2="1558" y2="2636.7" stroke="#000" stroke-width="6.5" stroke-dasharray="25.5 27.4" stroke-dashoffset="0"/>
<text x="1608" y="1907.3" font-family='"DejaVu Sans", "Liberation Sans", sans-serif' font-size="72" text-anchor="start" textLength="266" lengthAdjust="spacingAndGlyphs">Sth,mac</text>
<text x="1611" y="2002.2" font-family='"DejaVu Sans", "Liberation Sans", sans-serif' font-size="72" text-anchor="start" textLength="725.5" lengthAdjust="spacingAndGlyphs">Vollmer et al. (N=100)</text>
<text x="1607.6" y="2095.6" font-family='"DejaVu Sans", "Liberation Sans", sans-serif' font-size="72" text-anchor="start" textLength="487" lengthAdjust="spacingAndGlyphs">Ishida (N=100)</text>
<text x="1611" y="2189.7" font-family='"DejaVu Sans", "Liberation Sans", sans-serif' font-size="72" text-anchor="start" textLength="725.5" lengthAdjust="spacingAndGlyphs">Vollmer et al. (N=200)</text>
<text x="1607.6" y="2284.4" font-family='"DejaVu Sans", "Liberation Sans", sans-serif' font-size="72" text-anchor="start" textLength="487" lengthAdjust="spacingAndGlyphs">Ishida (N=200)</text>
<text x="1611" y="2377.6" font-family='"DejaVu Sans", "Liberation Sans", sans-serif' font-size="72" text-anchor="start" textLength="725.5" lengthAdjust="spacingAndGlyphs">Vollmer et al. (N=400)</text>
<text x="1607.6" y="2471.6" font-family='"DejaVu Sans", "Liberation Sans", sans-serif' font-size="72" text-anchor="start" textLength="487" lengthAdjust="spacingAndGlyphs">Ishida (N=400)</text>
<text x="1611" y="2566.8" font-family='"DejaVu Sans", "Liberation Sans", sans-serif' font-size="72" text-anchor="start" textLength="725.5" lengthAdjust="spacingAndGlyphs">Vollmer et al. (N=800)</text>
<text x="1607.6" y="2660.7" font-family='"DejaVu Sans", "Liberation Sans", sans-serif' font-size="72" text-anchor="start" textLength="487" lengthAdjust="spacingAndGlyphs">Ishida (N=800)</text>
<text x="193" y="1594.7" font-family='"DejaVu Sans", "Liberation Sans", sans-serif' font-size="72" text-anchor="end">0</text>
<text x="193" y="1784" font-family='"DejaVu Sans", "Liberation Sans", sans-serif' font-size="72" text-anchor="end">-2</text>
<text x="193" y="1975" font-family='"DejaVu Sans", "Liberation Sans", sans-serif' font-size="72" text-anchor="end">-4</text>
<text x="193" y="2166" font-family='"DejaVu Sans", "Liberation Sans", sans-serif' font-size="72" text-anchor="end">-6</text>
<text x="193" y="2352" font-family='"DejaVu Sans", "Liberation Sans", sans-serif' font-size="72" text-anchor="end">-8</text>
<text x="193" y="2543" font-family='"DejaVu Sans", "Liberation Sans", sans-serif' font-size="72" text-anchor="end">-10</text>
<text x="193" y="2732.5" font-family='"DejaVu Sans", "Liberation Sans", sans-serif' font-size="72" text-anchor="end">-12</text>
<text x="219" y="2809" font-family='"DejaVu Sans", "Liberation Sans", sans-serif' font-size="72" text-anchor="middle">0.0</text>
<text x="647.5" y="2809" font-family='"DejaVu Sans", "Liberation Sans", sans-serif' font-size="72" text-anchor="middle">0.2</text>
<text x="1080" y="2809" font-family='"DejaVu Sans", "Liberation Sans", sans-serif' font-size="72" text-anchor="middle">0.4</text>
<text x="1511.9" y="2809" font-family='"DejaVu Sans", "Liberation Sans", sans-serif' font-size="72" text-anchor="middle">0.6</text>
<text x="1943.5" y="2809" font-family='"DejaVu Sans", "Liberation Sans", sans-serif' font-size="72" text-anchor="middle">0.8</text>
<text x="2430.5" y="2809" font-family='"DejaVu Sans", "Liberation Sans", sans-serif' font-size="72" text-anchor="end" textLength="104" lengthAdjust="spacingAndGlyphs">1.0</text>
<text x="1337" y="2809" font-family='"DejaVu Sans", "Liberation Sans", sans-serif' font-size="72" text-anchor="middle">r</text>
<text transform="translate(93,2123.5) rotate(-90)" font-family='"DejaVu Sans", "Liberation Sans", sans-serif' font-size="72" text-anchor="middle" textLength="1009" lengthAdjust="spacingAndGlyphs">Entropy flow due to thermostat</text>
<text x="1231.5" y="2957" font-family='"Liberation Serif", "DejaVu Serif", serif' font-size="94" text-anchor="middle">(<tspan font-weight="bold" font-size="100">c</tspan>)</text>
</svg></body></html>
